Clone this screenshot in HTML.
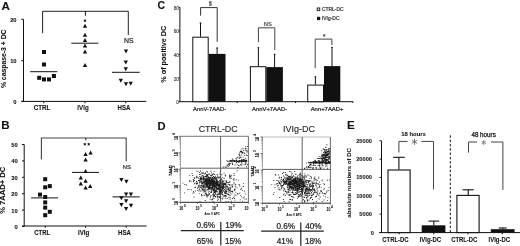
<!DOCTYPE html>
<html><head><meta charset="utf-8"><style>
html,body{margin:0;padding:0;background:#fff;}
svg{display:block;filter:blur(0.3px);font-family:"Liberation Sans", sans-serif;}
</style></head><body>
<svg width="520" height="246" viewBox="0 0 520 246">
<rect width="520" height="246" fill="#fff"/>
<text x="1.6" y="9.6" font-size="11.6" text-anchor="start" font-weight="bold" font-style="normal" fill="#111"  stroke="#111" stroke-width="0.08">A</text>
<line x1="23.5" y1="19.3" x2="23.5" y2="101.9" stroke="#111" stroke-width="1.0" />
<line x1="21.3" y1="19.3" x2="23.5" y2="19.3" stroke="#111" stroke-width="1.0" />
<text x="16.6" y="21.8" font-size="5.8" text-anchor="end" font-weight="bold" font-style="normal" fill="#111"  stroke="#111" stroke-width="0.08">20</text>
<line x1="21.3" y1="60.7" x2="23.5" y2="60.7" stroke="#111" stroke-width="1.0" />
<text x="16.6" y="63.2" font-size="5.8" text-anchor="end" font-weight="bold" font-style="normal" fill="#111"  stroke="#111" stroke-width="0.08">10</text>
<line x1="21.3" y1="101.4" x2="23.5" y2="101.4" stroke="#111" stroke-width="1.0" />
<text x="16.6" y="103.9" font-size="5.8" text-anchor="end" font-weight="bold" font-style="normal" fill="#111"  stroke="#111" stroke-width="0.08">0</text>
<line x1="21.3" y1="101.4" x2="146.3" y2="101.4" stroke="#111" stroke-width="1.0" />
<line x1="43.8" y1="101.4" x2="43.8" y2="103.2" stroke="#111" stroke-width="1.0" />
<line x1="85.0" y1="101.4" x2="85.0" y2="103.2" stroke="#111" stroke-width="1.0" />
<line x1="125.8" y1="101.4" x2="125.8" y2="103.2" stroke="#111" stroke-width="1.0" />
<text x="42.0" y="109.8" font-size="6.6" text-anchor="middle" font-weight="bold" font-style="normal" fill="#111" textLength="16.6" lengthAdjust="spacingAndGlyphs"  stroke="#111" stroke-width="0.08">CTRL</text>
<text x="83.0" y="109.8" font-size="6.6" text-anchor="middle" font-weight="bold" font-style="normal" fill="#111" textLength="11.3" lengthAdjust="spacingAndGlyphs"  stroke="#111" stroke-width="0.08">IVIg</text>
<text x="124.0" y="109.8" font-size="6.6" text-anchor="middle" font-weight="bold" font-style="normal" fill="#111" textLength="12.9" lengthAdjust="spacingAndGlyphs"  stroke="#111" stroke-width="0.08">HSA</text>
<text x="6.0" y="58.8" font-size="6.3" text-anchor="middle" font-weight="bold" font-style="normal" fill="#111" textLength="58.6" lengthAdjust="spacingAndGlyphs" transform="rotate(-90 6.0 58.8)"  stroke="#111" stroke-width="0.08">% caspase-3 + DC</text>
<polyline points="42.6,33.2 42.6,11.3 128.3,11.3 128.3,35" fill="none" stroke="#222" stroke-width="1"/>
<line x1="85.4" y1="11.3" x2="85.4" y2="15.7" stroke="#111" stroke-width="1.0" />
<path d="M85.00 19.75L85.00 21.65M85.82 20.22L84.18 21.18M85.82 21.18L84.18 20.22" stroke="#111" stroke-width="0.90" stroke-linecap="round"/>
<text x="128.8" y="42.6" font-size="6.4" text-anchor="middle" font-weight="normal" font-style="normal" fill="#111" textLength="9.6" lengthAdjust="spacingAndGlyphs" stroke="#111" stroke-width="0.15">NS</text>
<rect x="42.0" y="50.0" width="4.0" height="4.0" fill="#111" stroke="none" stroke-width="1.0"/>
<rect x="42.0" y="62.5" width="4.0" height="4.0" fill="#111" stroke="none" stroke-width="1.0"/>
<rect x="37.2" y="75.8" width="4.0" height="4.0" fill="#111" stroke="none" stroke-width="1.0"/>
<rect x="42.0" y="77.4" width="4.0" height="4.0" fill="#111" stroke="none" stroke-width="1.0"/>
<rect x="47.0" y="77.4" width="4.0" height="4.0" fill="#111" stroke="none" stroke-width="1.0"/>
<rect x="51.9" y="74.0" width="4.0" height="4.0" fill="#111" stroke="none" stroke-width="1.0"/>
<line x1="30.2" y1="71.7" x2="57.3" y2="71.7" stroke="#111" stroke-width="1.0" />
<polygon points="82.85,27.70 87.15,27.70 85.00,23.70" fill="#111"/>
<polygon points="82.85,36.70 87.15,36.70 85.00,32.70" fill="#111"/>
<polygon points="82.85,42.10 87.15,42.10 85.00,38.10" fill="#111"/>
<polygon points="82.85,47.50 87.15,47.50 85.00,43.50" fill="#111"/>
<polygon points="82.85,53.40 87.15,53.40 85.00,49.40" fill="#111"/>
<polygon points="82.85,67.00 87.15,67.00 85.00,63.00" fill="#111"/>
<line x1="71.3" y1="43.2" x2="98.4" y2="43.2" stroke="#111" stroke-width="1.0" />
<polygon points="123.85,49.40 128.15,49.40 126.00,53.40" fill="#111"/>
<polygon points="123.65,60.50 127.95,60.50 125.80,64.50" fill="#111"/>
<polygon points="123.65,67.30 127.95,67.30 125.80,71.30" fill="#111"/>
<polygon points="118.65,78.80 122.95,78.80 120.80,82.80" fill="#111"/>
<polygon points="123.85,82.30 128.15,82.30 126.00,86.30" fill="#111"/>
<polygon points="128.55,81.80 132.85,81.80 130.70,85.80" fill="#111"/>
<line x1="112" y1="72.3" x2="139.7" y2="72.3" stroke="#111" stroke-width="1.0" />
<text x="1.2" y="129.4" font-size="11.6" text-anchor="start" font-weight="bold" font-style="normal" fill="#111"  stroke="#111" stroke-width="0.08">B</text>
<line x1="24.2" y1="144.5" x2="24.2" y2="226.5" stroke="#111" stroke-width="1.0" />
<line x1="22.0" y1="144.5" x2="24.2" y2="144.5" stroke="#111" stroke-width="1.0" />
<text x="17.8" y="146.9" font-size="5.8" text-anchor="end" font-weight="bold" font-style="normal" fill="#111"  stroke="#111" stroke-width="0.08">50</text>
<line x1="22.0" y1="160.9" x2="24.2" y2="160.9" stroke="#111" stroke-width="1.0" />
<text x="17.8" y="163.3" font-size="5.8" text-anchor="end" font-weight="bold" font-style="normal" fill="#111"  stroke="#111" stroke-width="0.08">40</text>
<line x1="22.0" y1="177.3" x2="24.2" y2="177.3" stroke="#111" stroke-width="1.0" />
<text x="17.8" y="179.70000000000002" font-size="5.8" text-anchor="end" font-weight="bold" font-style="normal" fill="#111"  stroke="#111" stroke-width="0.08">30</text>
<line x1="22.0" y1="193.7" x2="24.2" y2="193.7" stroke="#111" stroke-width="1.0" />
<text x="17.8" y="196.1" font-size="5.8" text-anchor="end" font-weight="bold" font-style="normal" fill="#111"  stroke="#111" stroke-width="0.08">20</text>
<line x1="22.0" y1="210.1" x2="24.2" y2="210.1" stroke="#111" stroke-width="1.0" />
<text x="17.8" y="212.5" font-size="5.8" text-anchor="end" font-weight="bold" font-style="normal" fill="#111"  stroke="#111" stroke-width="0.08">10</text>
<line x1="22.0" y1="226.5" x2="24.2" y2="226.5" stroke="#111" stroke-width="1.0" />
<text x="17.8" y="228.9" font-size="5.8" text-anchor="end" font-weight="bold" font-style="normal" fill="#111"  stroke="#111" stroke-width="0.08">0</text>
<line x1="22.0" y1="226.0" x2="146.6" y2="226.0" stroke="#111" stroke-width="1.0" />
<line x1="45.2" y1="226.0" x2="45.2" y2="227.8" stroke="#111" stroke-width="1.0" />
<line x1="85.6" y1="226.0" x2="85.6" y2="227.8" stroke="#111" stroke-width="1.0" />
<line x1="126.2" y1="226.0" x2="126.2" y2="227.8" stroke="#111" stroke-width="1.0" />
<text x="42.2" y="234.6" font-size="6.6" text-anchor="middle" font-weight="bold" font-style="normal" fill="#111" textLength="15.8" lengthAdjust="spacingAndGlyphs"  stroke="#111" stroke-width="0.08">CTRL</text>
<text x="83.6" y="234.6" font-size="6.6" text-anchor="middle" font-weight="bold" font-style="normal" fill="#111" textLength="11.3" lengthAdjust="spacingAndGlyphs"  stroke="#111" stroke-width="0.08">IVIg</text>
<text x="124.4" y="234.6" font-size="6.6" text-anchor="middle" font-weight="bold" font-style="normal" fill="#111" textLength="12.8" lengthAdjust="spacingAndGlyphs"  stroke="#111" stroke-width="0.08">HSA</text>
<text x="5.4" y="190.3" font-size="6.3" text-anchor="middle" font-weight="bold" font-style="normal" fill="#111" textLength="47" lengthAdjust="spacingAndGlyphs" transform="rotate(-90 5.4 190.3)"  stroke="#111" stroke-width="0.08">% 7AAD+ DC</text>
<polyline points="41.4,159.4 41.4,138 126.2,138 126.2,161.3" fill="none" stroke="#444" stroke-width="1.1"/>
<line x1="85.8" y1="138" x2="85.8" y2="140.2" stroke="#111" stroke-width="1.0" />
<path d="M84.80 143.30L84.80 145.10M85.58 143.75L84.02 144.65M85.58 144.65L84.02 143.75" stroke="#111" stroke-width="0.85" stroke-linecap="round"/>
<path d="M88.70 143.30L88.70 145.10M89.48 143.75L87.92 144.65M89.48 144.65L87.92 143.75" stroke="#111" stroke-width="0.85" stroke-linecap="round"/>
<text x="126.8" y="168.9" font-size="5.6" text-anchor="middle" font-weight="normal" font-style="normal" fill="#333" textLength="8.2" lengthAdjust="spacingAndGlyphs"  stroke="#333" stroke-width="0.22">NS</text>
<rect x="43.2" y="177.2" width="4.0" height="4.0" fill="#111" stroke="none" stroke-width="1.0"/>
<rect x="43.2" y="185.3" width="4.0" height="4.0" fill="#111" stroke="none" stroke-width="1.0"/>
<rect x="47.8" y="184.1" width="4.0" height="4.0" fill="#111" stroke="none" stroke-width="1.0"/>
<rect x="38.0" y="192.6" width="4.0" height="4.0" fill="#111" stroke="none" stroke-width="1.0"/>
<rect x="43.2" y="195.0" width="4.0" height="4.0" fill="#111" stroke="none" stroke-width="1.0"/>
<rect x="43.2" y="200.4" width="4.0" height="4.0" fill="#111" stroke="none" stroke-width="1.0"/>
<rect x="43.2" y="205.6" width="4.0" height="4.0" fill="#111" stroke="none" stroke-width="1.0"/>
<rect x="47.8" y="209.8" width="4.0" height="4.0" fill="#111" stroke="none" stroke-width="1.0"/>
<rect x="43.2" y="213.2" width="4.0" height="4.0" fill="#111" stroke="none" stroke-width="1.0"/>
<line x1="31.1" y1="197.9" x2="58" y2="197.9" stroke="#111" stroke-width="1.0" />
<polygon points="88.45,154.50 92.75,154.50 90.60,150.50" fill="#111"/>
<polygon points="83.45,156.00 87.75,156.00 85.60,152.00" fill="#111"/>
<polygon points="83.45,161.40 87.75,161.40 85.60,157.40" fill="#111"/>
<polygon points="83.45,173.00 87.75,173.00 85.60,169.00" fill="#111"/>
<polygon points="78.65,179.60 82.95,179.60 80.80,175.60" fill="#111"/>
<polygon points="83.45,182.70 87.75,182.70 85.60,178.70" fill="#111"/>
<polygon points="78.65,185.60 82.95,185.60 80.80,181.60" fill="#111"/>
<polygon points="83.45,189.40 87.75,189.40 85.60,185.40" fill="#111"/>
<polygon points="88.05,188.10 92.35,188.10 90.20,184.10" fill="#111"/>
<line x1="72" y1="172.4" x2="99" y2="172.4" stroke="#111" stroke-width="1.0" />
<polygon points="119.25,178.00 123.55,178.00 121.40,182.00" fill="#111"/>
<polygon points="124.25,179.70 128.55,179.70 126.40,183.70" fill="#111"/>
<polygon points="123.95,192.40 128.25,192.40 126.10,196.40" fill="#111"/>
<polygon points="128.75,192.40 133.05,192.40 130.90,196.40" fill="#111"/>
<polygon points="119.25,196.20 123.55,196.20 121.40,200.20" fill="#111"/>
<polygon points="123.95,199.30 128.25,199.30 126.10,203.30" fill="#111"/>
<polygon points="119.25,202.90 123.55,202.90 121.40,206.90" fill="#111"/>
<polygon points="128.85,203.70 133.15,203.70 131.00,207.70" fill="#111"/>
<polygon points="123.95,207.10 128.25,207.10 126.10,211.10" fill="#111"/>
<line x1="112.6" y1="196.9" x2="139.7" y2="196.9" stroke="#111" stroke-width="1.0" />
<text x="157.6" y="8.6" font-size="10.5" text-anchor="start" font-weight="bold" font-style="normal" fill="#111"  stroke="#111" stroke-width="0.08">C</text>
<line x1="179.9" y1="7.3" x2="179.9" y2="101.7" stroke="#111" stroke-width="1.0" />
<line x1="178.5" y1="7.3" x2="179.9" y2="7.3" stroke="#111" stroke-width="1.0" />
<text x="178.9" y="9.7" font-size="4.6" text-anchor="end" font-weight="normal" font-style="normal" fill="#444"  stroke="#444" stroke-width="0.132">80</text>
<line x1="178.5" y1="30.900000000000002" x2="179.9" y2="30.900000000000002" stroke="#111" stroke-width="1.0" />
<text x="178.9" y="33.300000000000004" font-size="4.6" text-anchor="end" font-weight="normal" font-style="normal" fill="#444"  stroke="#444" stroke-width="0.132">60</text>
<line x1="178.5" y1="54.5" x2="179.9" y2="54.5" stroke="#111" stroke-width="1.0" />
<text x="178.9" y="56.9" font-size="4.6" text-anchor="end" font-weight="normal" font-style="normal" fill="#444"  stroke="#444" stroke-width="0.132">40</text>
<line x1="178.5" y1="78.10000000000001" x2="179.9" y2="78.10000000000001" stroke="#111" stroke-width="1.0" />
<text x="178.9" y="80.50000000000001" font-size="4.6" text-anchor="end" font-weight="normal" font-style="normal" fill="#444"  stroke="#444" stroke-width="0.132">20</text>
<line x1="178.5" y1="101.7" x2="179.9" y2="101.7" stroke="#111" stroke-width="1.0" />
<text x="178.9" y="104.10000000000001" font-size="4.6" text-anchor="end" font-weight="normal" font-style="normal" fill="#444"  stroke="#444" stroke-width="0.132">0</text>
<line x1="179.4" y1="101.7" x2="353" y2="101.7" stroke="#111" stroke-width="1.0" />
<line x1="237.2" y1="101.7" x2="237.2" y2="103" stroke="#111" stroke-width="1.0" />
<line x1="295.5" y1="101.7" x2="295.5" y2="103" stroke="#111" stroke-width="1.0" />
<line x1="353" y1="101.7" x2="353" y2="103" stroke="#111" stroke-width="1.0" />
<text x="166.2" y="54.2" font-size="6.8" text-anchor="middle" font-weight="bold" font-style="normal" fill="#111" textLength="57" lengthAdjust="spacingAndGlyphs" transform="rotate(-90 166.2 54.2)"  stroke="#111" stroke-width="0.08">% of positive   DC</text>
<line x1="200.5" y1="22.6" x2="200.5" y2="36.7" stroke="#111" stroke-width="1.0" />
<line x1="199.6" y1="23.0" x2="201.4" y2="23.0" stroke="#111" stroke-width="0.8" />
<rect x="192.8" y="37.2" width="15.399999999999977" height="64.5" fill="#fff" stroke="#111" stroke-width="1"/>
<line x1="217.1" y1="47.6" x2="217.1" y2="53.9" stroke="#111" stroke-width="1.0" />
<line x1="216.2" y1="48.0" x2="218.0" y2="48.0" stroke="#111" stroke-width="0.8" />
<rect x="208.7" y="53.9" width="16.80000000000001" height="47.800000000000004" fill="#111" stroke="none" stroke-width="1.0"/>
<line x1="258.4" y1="47.3" x2="258.4" y2="66.2" stroke="#111" stroke-width="1.0" />
<line x1="257.5" y1="47.699999999999996" x2="259.29999999999995" y2="47.699999999999996" stroke="#111" stroke-width="0.8" />
<rect x="250.4" y="66.7" width="15.400000000000006" height="35.0" fill="#fff" stroke="#111" stroke-width="1"/>
<line x1="274.6" y1="53.9" x2="274.6" y2="67.1" stroke="#111" stroke-width="1.0" />
<line x1="273.70000000000005" y1="54.3" x2="275.5" y2="54.3" stroke="#111" stroke-width="0.8" />
<rect x="266.3" y="67.1" width="16.599999999999966" height="34.60000000000001" fill="#111" stroke="none" stroke-width="1.0"/>
<line x1="315.4" y1="76.4" x2="315.4" y2="84.6" stroke="#111" stroke-width="1.0" />
<line x1="314.5" y1="76.80000000000001" x2="316.29999999999995" y2="76.80000000000001" stroke="#111" stroke-width="0.8" />
<rect x="307.7" y="85.1" width="15.800000000000011" height="16.60000000000001" fill="#fff" stroke="#111" stroke-width="1"/>
<line x1="332.0" y1="47.0" x2="332.0" y2="66.1" stroke="#111" stroke-width="1.0" />
<line x1="331.1" y1="47.4" x2="332.9" y2="47.4" stroke="#111" stroke-width="0.8" />
<rect x="324.0" y="66.1" width="16.30000000000001" height="35.60000000000001" fill="#111" stroke="none" stroke-width="1.0"/>
<polyline points="200.6,15.7 200.6,7.6 217.2,7.6 217.2,41.8" fill="none" stroke="#333" stroke-width="1"/>
<text x="210.4" y="5.0" font-size="5.5" text-anchor="middle" font-weight="normal" font-style="normal" fill="#333"  stroke="#333" stroke-width="0.22">§</text>
<polyline points="258.4,42.1 258.4,27.8 274.8,27.8 274.8,50.1" fill="none" stroke="#444" stroke-width="1"/>
<text x="267.8" y="26.1" font-size="4.9" text-anchor="middle" font-weight="normal" font-style="normal" fill="#333" textLength="8" lengthAdjust="spacingAndGlyphs"  stroke="#333" stroke-width="0.132">NS</text>
<polyline points="315.2,68.2 315.2,39.1 331.9,39.1 331.9,45.1" fill="none" stroke="#444" stroke-width="1"/>
<path d="M324.20 34.50L324.20 36.30M324.98 34.95L323.42 35.85M324.98 35.85L323.42 34.95" stroke="#444" stroke-width="0.85" stroke-linecap="round"/>
<text x="209.6" y="110.5" font-size="5.6" text-anchor="middle" font-weight="normal" font-style="normal" fill="#222" textLength="33" lengthAdjust="spacingAndGlyphs"  stroke="#222" stroke-width="0.22">AnnV-7AAD-</text>
<text x="269.6" y="110.5" font-size="5.6" text-anchor="middle" font-weight="normal" font-style="normal" fill="#222" textLength="35.3" lengthAdjust="spacingAndGlyphs"  stroke="#222" stroke-width="0.22">AnnV+7AAD-</text>
<text x="327.1" y="110.5" font-size="5.6" text-anchor="middle" font-weight="normal" font-style="normal" fill="#222" textLength="32.8" lengthAdjust="spacingAndGlyphs"  stroke="#222" stroke-width="0.22">Ann+7AAD+</text>
<rect x="317.3" y="8.0" width="2.4" height="2.6" fill="#fff" stroke="#333" stroke-width="1.1"/>
<text x="321.9" y="11.0" font-size="5.0" text-anchor="start" font-weight="normal" font-style="normal" fill="#333" textLength="21.6" lengthAdjust="spacingAndGlyphs"  stroke="#333" stroke-width="0.22">CTRL-DC</text>
<rect x="317.0" y="16.8" width="3.2" height="3.3" fill="#111" stroke="none" stroke-width="1.0"/>
<text x="321.9" y="20.0" font-size="5.0" text-anchor="start" font-weight="normal" font-style="normal" fill="#333" textLength="17.6" lengthAdjust="spacingAndGlyphs"  stroke="#333" stroke-width="0.22">IVIg-DC</text>
<text x="157.4" y="129.6" font-size="11.2" text-anchor="start" font-weight="bold" font-style="normal" fill="#111"  stroke="#111" stroke-width="0.08">D</text>
<text x="198.7" y="131.6" font-size="8.7" text-anchor="start" font-weight="normal" font-style="normal" fill="#222" textLength="39.0" lengthAdjust="spacingAndGlyphs" stroke="#222" stroke-width="0.1">CTRL-DC</text>
<text x="283.0" y="132.4" font-size="8.7" text-anchor="start" font-weight="normal" font-style="normal" fill="#222" textLength="32.0" lengthAdjust="spacingAndGlyphs" stroke="#222" stroke-width="0.1">IVIg-DC</text>
<line x1="180.5" y1="202.3" x2="248.4" y2="202.3" stroke="#222" stroke-width="1.0" />
<line x1="248.4" y1="136.3" x2="248.4" y2="202.3" stroke="#444" stroke-width="0.8" />
<line x1="180.5" y1="136.3" x2="248.4" y2="136.3" stroke="#555" stroke-width="0.8" />
<line x1="180.5" y1="136.3" x2="180.5" y2="202.3" stroke="#777" stroke-width="0.6" />
<line x1="220.6" y1="136.3" x2="220.6" y2="202.3" stroke="#444" stroke-width="0.85" />
<line x1="180.5" y1="168.2" x2="248.4" y2="168.2" stroke="#444" stroke-width="0.85" />
<line x1="178.5" y1="202.3" x2="180.5" y2="202.3" stroke="#333" stroke-width="0.7" />
<line x1="179.3" y1="197.33300507154433" x2="180.5" y2="197.33300507154433" stroke="#555" stroke-width="0.5" />
<line x1="179.3" y1="194.4274992971256" x2="180.5" y2="194.4274992971256" stroke="#555" stroke-width="0.5" />
<line x1="179.3" y1="192.36601014308863" x2="180.5" y2="192.36601014308863" stroke="#555" stroke-width="0.5" />
<line x1="179.3" y1="190.7669949284557" x2="180.5" y2="190.7669949284557" stroke="#555" stroke-width="0.5" />
<line x1="179.3" y1="189.4605043686699" x2="180.5" y2="189.4605043686699" stroke="#555" stroke-width="0.5" />
<line x1="179.3" y1="188.35588233976478" x2="180.5" y2="188.35588233976478" stroke="#555" stroke-width="0.5" />
<line x1="179.3" y1="187.39901521463295" x2="180.5" y2="187.39901521463295" stroke="#555" stroke-width="0.5" />
<line x1="179.3" y1="186.55499859425115" x2="180.5" y2="186.55499859425115" stroke="#555" stroke-width="0.5" />
<line x1="178.5" y1="185.8" x2="180.5" y2="185.8" stroke="#333" stroke-width="0.7" />
<line x1="179.3" y1="180.83300507154433" x2="180.5" y2="180.83300507154433" stroke="#555" stroke-width="0.5" />
<line x1="179.3" y1="177.9274992971256" x2="180.5" y2="177.9274992971256" stroke="#555" stroke-width="0.5" />
<line x1="179.3" y1="175.86601014308863" x2="180.5" y2="175.86601014308863" stroke="#555" stroke-width="0.5" />
<line x1="179.3" y1="174.2669949284557" x2="180.5" y2="174.2669949284557" stroke="#555" stroke-width="0.5" />
<line x1="179.3" y1="172.9605043686699" x2="180.5" y2="172.9605043686699" stroke="#555" stroke-width="0.5" />
<line x1="179.3" y1="171.85588233976478" x2="180.5" y2="171.85588233976478" stroke="#555" stroke-width="0.5" />
<line x1="179.3" y1="170.89901521463295" x2="180.5" y2="170.89901521463295" stroke="#555" stroke-width="0.5" />
<line x1="179.3" y1="170.05499859425115" x2="180.5" y2="170.05499859425115" stroke="#555" stroke-width="0.5" />
<line x1="178.5" y1="169.3" x2="180.5" y2="169.3" stroke="#333" stroke-width="0.7" />
<line x1="179.3" y1="164.33300507154433" x2="180.5" y2="164.33300507154433" stroke="#555" stroke-width="0.5" />
<line x1="179.3" y1="161.4274992971256" x2="180.5" y2="161.4274992971256" stroke="#555" stroke-width="0.5" />
<line x1="179.3" y1="159.36601014308863" x2="180.5" y2="159.36601014308863" stroke="#555" stroke-width="0.5" />
<line x1="179.3" y1="157.7669949284557" x2="180.5" y2="157.7669949284557" stroke="#555" stroke-width="0.5" />
<line x1="179.3" y1="156.4605043686699" x2="180.5" y2="156.4605043686699" stroke="#555" stroke-width="0.5" />
<line x1="179.3" y1="155.35588233976478" x2="180.5" y2="155.35588233976478" stroke="#555" stroke-width="0.5" />
<line x1="179.3" y1="154.39901521463295" x2="180.5" y2="154.39901521463295" stroke="#555" stroke-width="0.5" />
<line x1="179.3" y1="153.55499859425115" x2="180.5" y2="153.55499859425115" stroke="#555" stroke-width="0.5" />
<line x1="178.5" y1="152.8" x2="180.5" y2="152.8" stroke="#333" stroke-width="0.7" />
<line x1="179.3" y1="147.83300507154433" x2="180.5" y2="147.83300507154433" stroke="#555" stroke-width="0.5" />
<line x1="179.3" y1="144.9274992971256" x2="180.5" y2="144.9274992971256" stroke="#555" stroke-width="0.5" />
<line x1="179.3" y1="142.86601014308863" x2="180.5" y2="142.86601014308863" stroke="#555" stroke-width="0.5" />
<line x1="179.3" y1="141.2669949284557" x2="180.5" y2="141.2669949284557" stroke="#555" stroke-width="0.5" />
<line x1="179.3" y1="139.9605043686699" x2="180.5" y2="139.9605043686699" stroke="#555" stroke-width="0.5" />
<line x1="179.3" y1="138.85588233976478" x2="180.5" y2="138.85588233976478" stroke="#555" stroke-width="0.5" />
<line x1="179.3" y1="137.89901521463295" x2="180.5" y2="137.89901521463295" stroke="#555" stroke-width="0.5" />
<line x1="179.3" y1="137.05499859425115" x2="180.5" y2="137.05499859425115" stroke="#555" stroke-width="0.5" />
<line x1="178.5" y1="136.3" x2="180.5" y2="136.3" stroke="#333" stroke-width="0.7" />
<line x1="180.5" y1="202.3" x2="180.5" y2="203.8" stroke="#333" stroke-width="0.7" />
<line x1="197.475" y1="202.3" x2="197.475" y2="203.8" stroke="#333" stroke-width="0.7" />
<line x1="214.45" y1="202.3" x2="214.45" y2="203.8" stroke="#333" stroke-width="0.7" />
<line x1="231.425" y1="202.3" x2="231.425" y2="203.8" stroke="#333" stroke-width="0.7" />
<line x1="248.4" y1="202.3" x2="248.4" y2="203.8" stroke="#333" stroke-width="0.7" />
<path d="M208.4 181.5h0.9v0.9h-0.9zM208.6 179.4h0.9v0.9h-0.9zM205.6 179.3h0.9v0.9h-0.9zM214.2 182.0h0.9v0.9h-0.9zM213.9 181.5h0.9v0.9h-0.9zM211.2 181.0h0.9v0.9h-0.9zM202.5 181.6h0.9v0.9h-0.9zM211.6 181.8h0.9v0.9h-0.9zM202.4 175.0h0.9v0.9h-0.9zM205.8 178.6h0.9v0.9h-0.9zM210.8 180.3h0.9v0.9h-0.9zM211.7 178.9h0.9v0.9h-0.9zM210.8 181.5h0.9v0.9h-0.9zM206.7 184.3h0.9v0.9h-0.9zM211.8 183.6h0.9v0.9h-0.9zM206.9 178.1h0.9v0.9h-0.9zM208.1 179.8h0.9v0.9h-0.9zM212.2 181.3h0.9v0.9h-0.9zM207.6 177.6h0.9v0.9h-0.9zM207.3 183.1h0.9v0.9h-0.9zM206.1 180.5h0.9v0.9h-0.9zM211.3 176.7h0.9v0.9h-0.9zM209.7 183.7h0.9v0.9h-0.9zM201.0 178.4h0.9v0.9h-0.9zM209.1 178.2h0.9v0.9h-0.9zM211.6 180.4h0.9v0.9h-0.9zM203.3 181.6h0.9v0.9h-0.9zM212.3 183.1h0.9v0.9h-0.9zM215.6 182.0h0.9v0.9h-0.9zM210.0 177.1h0.9v0.9h-0.9zM212.1 179.1h0.9v0.9h-0.9zM207.6 176.8h0.9v0.9h-0.9zM205.4 178.4h0.9v0.9h-0.9zM214.9 175.8h0.9v0.9h-0.9zM203.4 180.2h0.9v0.9h-0.9zM215.6 182.5h0.9v0.9h-0.9zM201.5 172.9h0.9v0.9h-0.9zM211.0 178.6h0.9v0.9h-0.9zM204.8 182.2h0.9v0.9h-0.9zM214.1 181.3h0.9v0.9h-0.9zM210.5 181.5h0.9v0.9h-0.9zM216.2 182.7h0.9v0.9h-0.9zM211.7 182.0h0.9v0.9h-0.9zM202.9 182.7h0.9v0.9h-0.9zM213.5 182.1h0.9v0.9h-0.9zM201.2 177.7h0.9v0.9h-0.9zM213.0 176.1h0.9v0.9h-0.9zM208.7 182.8h0.9v0.9h-0.9zM204.0 183.7h0.9v0.9h-0.9zM211.8 180.2h0.9v0.9h-0.9zM210.9 182.1h0.9v0.9h-0.9zM210.0 183.3h0.9v0.9h-0.9zM206.7 178.9h0.9v0.9h-0.9zM213.9 180.9h0.9v0.9h-0.9zM205.8 182.3h0.9v0.9h-0.9zM215.7 179.9h0.9v0.9h-0.9zM203.7 179.2h0.9v0.9h-0.9zM208.9 179.5h0.9v0.9h-0.9zM215.4 178.4h0.9v0.9h-0.9zM214.8 177.7h0.9v0.9h-0.9zM206.2 181.5h0.9v0.9h-0.9zM214.2 183.1h0.9v0.9h-0.9zM210.9 180.8h0.9v0.9h-0.9zM210.1 181.8h0.9v0.9h-0.9zM208.8 180.9h0.9v0.9h-0.9zM211.9 180.6h0.9v0.9h-0.9zM212.7 182.1h0.9v0.9h-0.9zM217.9 182.2h0.9v0.9h-0.9zM207.7 179.1h0.9v0.9h-0.9zM209.4 182.6h0.9v0.9h-0.9zM208.1 181.1h0.9v0.9h-0.9zM217.2 174.7h0.9v0.9h-0.9zM204.8 180.3h0.9v0.9h-0.9zM211.2 181.1h0.9v0.9h-0.9zM207.7 181.7h0.9v0.9h-0.9zM210.7 179.1h0.9v0.9h-0.9zM219.7 182.5h0.9v0.9h-0.9zM207.2 179.8h0.9v0.9h-0.9zM208.6 180.0h0.9v0.9h-0.9zM198.0 177.6h0.9v0.9h-0.9zM213.7 177.8h0.9v0.9h-0.9zM209.2 182.7h0.9v0.9h-0.9zM213.1 184.5h0.9v0.9h-0.9zM202.4 178.5h0.9v0.9h-0.9zM208.1 181.7h0.9v0.9h-0.9zM214.1 174.0h0.9v0.9h-0.9zM214.1 177.2h0.9v0.9h-0.9zM212.4 176.9h0.9v0.9h-0.9zM210.2 183.4h0.9v0.9h-0.9zM208.9 180.7h0.9v0.9h-0.9zM212.8 181.1h0.9v0.9h-0.9zM209.1 184.2h0.9v0.9h-0.9zM213.9 180.1h0.9v0.9h-0.9zM221.0 178.8h0.9v0.9h-0.9zM213.3 180.1h0.9v0.9h-0.9zM210.1 182.2h0.9v0.9h-0.9zM210.4 182.0h0.9v0.9h-0.9zM203.1 175.7h0.9v0.9h-0.9zM212.1 178.2h0.9v0.9h-0.9zM205.2 176.0h0.9v0.9h-0.9zM214.8 182.9h0.9v0.9h-0.9zM215.7 178.7h0.9v0.9h-0.9zM209.5 177.4h0.9v0.9h-0.9zM212.7 184.7h0.9v0.9h-0.9zM205.8 183.8h0.9v0.9h-0.9zM213.6 180.4h0.9v0.9h-0.9zM201.2 182.9h0.9v0.9h-0.9zM209.1 178.7h0.9v0.9h-0.9zM211.2 181.6h0.9v0.9h-0.9zM215.8 178.5h0.9v0.9h-0.9zM214.3 184.7h0.9v0.9h-0.9zM215.6 180.6h0.9v0.9h-0.9zM206.4 182.5h0.9v0.9h-0.9zM210.0 180.7h0.9v0.9h-0.9zM215.5 180.4h0.9v0.9h-0.9zM199.9 178.1h0.9v0.9h-0.9zM201.7 181.4h0.9v0.9h-0.9zM210.8 178.9h0.9v0.9h-0.9zM209.5 182.4h0.9v0.9h-0.9zM209.8 183.7h0.9v0.9h-0.9zM209.2 182.9h0.9v0.9h-0.9zM215.8 185.2h0.9v0.9h-0.9zM206.7 182.2h0.9v0.9h-0.9zM201.6 176.6h0.9v0.9h-0.9zM201.3 182.0h0.9v0.9h-0.9zM204.3 179.6h0.9v0.9h-0.9zM208.7 180.1h0.9v0.9h-0.9zM207.0 180.6h0.9v0.9h-0.9zM217.0 181.3h0.9v0.9h-0.9zM211.7 183.1h0.9v0.9h-0.9zM208.7 177.0h0.9v0.9h-0.9zM207.2 182.7h0.9v0.9h-0.9zM202.6 177.9h0.9v0.9h-0.9zM213.7 182.8h0.9v0.9h-0.9zM209.5 182.4h0.9v0.9h-0.9zM210.2 177.4h0.9v0.9h-0.9zM202.9 177.9h0.9v0.9h-0.9zM213.4 179.3h0.9v0.9h-0.9zM205.7 177.9h0.9v0.9h-0.9zM203.1 179.2h0.9v0.9h-0.9zM204.5 180.6h0.9v0.9h-0.9zM199.6 179.9h0.9v0.9h-0.9zM206.8 175.0h0.9v0.9h-0.9zM212.5 180.0h0.9v0.9h-0.9zM200.1 176.9h0.9v0.9h-0.9zM210.7 179.3h0.9v0.9h-0.9zM212.8 182.6h0.9v0.9h-0.9zM212.3 181.5h0.9v0.9h-0.9zM215.1 182.7h0.9v0.9h-0.9zM211.4 175.2h0.9v0.9h-0.9zM213.3 184.1h0.9v0.9h-0.9zM208.3 178.9h0.9v0.9h-0.9zM217.6 176.8h0.9v0.9h-0.9zM211.5 186.7h0.9v0.9h-0.9zM205.6 181.6h0.9v0.9h-0.9zM217.4 181.0h0.9v0.9h-0.9zM211.9 182.9h0.9v0.9h-0.9zM205.7 179.6h0.9v0.9h-0.9zM210.7 182.6h0.9v0.9h-0.9zM209.4 179.8h0.9v0.9h-0.9zM205.2 178.9h0.9v0.9h-0.9zM213.2 181.0h0.9v0.9h-0.9zM205.9 177.7h0.9v0.9h-0.9zM220.7 184.6h0.9v0.9h-0.9zM212.2 174.0h0.9v0.9h-0.9zM212.1 181.8h0.9v0.9h-0.9zM216.6 182.3h0.9v0.9h-0.9zM209.2 181.6h0.9v0.9h-0.9zM201.3 181.9h0.9v0.9h-0.9zM210.9 178.7h0.9v0.9h-0.9zM215.1 185.6h0.9v0.9h-0.9zM203.6 177.9h0.9v0.9h-0.9zM210.7 180.9h0.9v0.9h-0.9zM207.8 177.6h0.9v0.9h-0.9zM218.4 184.0h0.9v0.9h-0.9zM204.5 176.3h0.9v0.9h-0.9zM216.7 183.7h0.9v0.9h-0.9zM217.1 183.3h0.9v0.9h-0.9zM205.8 180.5h0.9v0.9h-0.9zM200.4 177.3h0.9v0.9h-0.9zM209.3 181.6h0.9v0.9h-0.9zM206.4 179.6h0.9v0.9h-0.9zM211.4 181.5h0.9v0.9h-0.9zM212.2 181.2h0.9v0.9h-0.9zM208.1 182.1h0.9v0.9h-0.9zM209.7 178.2h0.9v0.9h-0.9zM206.9 180.0h0.9v0.9h-0.9zM209.0 180.6h0.9v0.9h-0.9zM209.5 180.7h0.9v0.9h-0.9zM208.9 177.0h0.9v0.9h-0.9zM211.3 183.2h0.9v0.9h-0.9zM211.3 180.0h0.9v0.9h-0.9zM211.4 178.1h0.9v0.9h-0.9zM201.5 179.5h0.9v0.9h-0.9zM205.6 181.7h0.9v0.9h-0.9zM204.9 173.0h0.9v0.9h-0.9zM205.1 183.8h0.9v0.9h-0.9zM207.9 176.6h0.9v0.9h-0.9zM206.3 181.2h0.9v0.9h-0.9zM211.6 181.0h0.9v0.9h-0.9zM224.6 189.6h0.9v0.9h-0.9zM211.8 186.8h0.9v0.9h-0.9zM226.1 191.1h0.9v0.9h-0.9zM220.7 180.4h0.9v0.9h-0.9zM210.7 187.3h0.9v0.9h-0.9zM209.5 188.7h0.9v0.9h-0.9zM217.1 189.2h0.9v0.9h-0.9zM210.2 195.8h0.9v0.9h-0.9zM222.5 184.8h0.9v0.9h-0.9zM212.8 196.5h0.9v0.9h-0.9zM209.1 187.7h0.9v0.9h-0.9zM220.3 185.5h0.9v0.9h-0.9zM202.1 183.1h0.9v0.9h-0.9zM215.1 189.9h0.9v0.9h-0.9zM218.7 185.3h0.9v0.9h-0.9zM219.3 187.9h0.9v0.9h-0.9zM213.8 184.6h0.9v0.9h-0.9zM209.9 186.9h0.9v0.9h-0.9zM203.0 179.4h0.9v0.9h-0.9zM212.0 177.0h0.9v0.9h-0.9zM208.3 173.8h0.9v0.9h-0.9zM206.2 185.7h0.9v0.9h-0.9zM216.8 184.6h0.9v0.9h-0.9zM210.0 176.9h0.9v0.9h-0.9zM227.5 189.2h0.9v0.9h-0.9zM221.3 181.4h0.9v0.9h-0.9zM210.4 175.0h0.9v0.9h-0.9zM218.6 189.6h0.9v0.9h-0.9zM195.9 180.9h0.9v0.9h-0.9zM217.4 176.5h0.9v0.9h-0.9zM196.5 176.2h0.9v0.9h-0.9zM206.7 176.4h0.9v0.9h-0.9zM212.3 185.2h0.9v0.9h-0.9zM217.4 188.3h0.9v0.9h-0.9zM224.8 191.8h0.9v0.9h-0.9zM200.8 179.6h0.9v0.9h-0.9zM203.0 177.3h0.9v0.9h-0.9zM211.3 183.9h0.9v0.9h-0.9zM216.2 177.2h0.9v0.9h-0.9zM201.5 182.0h0.9v0.9h-0.9zM210.3 182.2h0.9v0.9h-0.9zM211.5 180.3h0.9v0.9h-0.9zM218.0 186.7h0.9v0.9h-0.9zM211.3 180.7h0.9v0.9h-0.9zM210.5 170.8h0.9v0.9h-0.9zM203.7 182.7h0.9v0.9h-0.9zM199.2 182.7h0.9v0.9h-0.9zM213.3 177.7h0.9v0.9h-0.9zM209.9 182.1h0.9v0.9h-0.9zM215.9 187.6h0.9v0.9h-0.9zM211.7 179.9h0.9v0.9h-0.9zM210.8 183.5h0.9v0.9h-0.9zM218.2 186.5h0.9v0.9h-0.9zM205.9 176.5h0.9v0.9h-0.9zM208.8 179.9h0.9v0.9h-0.9zM202.5 181.8h0.9v0.9h-0.9zM207.8 183.8h0.9v0.9h-0.9zM216.4 182.8h0.9v0.9h-0.9zM231.8 186.0h0.9v0.9h-0.9zM221.4 186.2h0.9v0.9h-0.9zM221.5 174.3h0.9v0.9h-0.9zM205.6 184.1h0.9v0.9h-0.9zM217.1 196.0h0.9v0.9h-0.9zM214.7 190.6h0.9v0.9h-0.9zM218.5 189.7h0.9v0.9h-0.9zM216.3 184.0h0.9v0.9h-0.9zM216.3 179.6h0.9v0.9h-0.9zM222.0 180.9h0.9v0.9h-0.9zM214.1 194.5h0.9v0.9h-0.9zM210.1 183.8h0.9v0.9h-0.9zM221.9 185.9h0.9v0.9h-0.9zM205.1 184.0h0.9v0.9h-0.9zM216.9 188.3h0.9v0.9h-0.9zM205.4 191.2h0.9v0.9h-0.9zM226.2 186.6h0.9v0.9h-0.9zM214.3 182.4h0.9v0.9h-0.9zM224.0 182.8h0.9v0.9h-0.9zM217.7 182.7h0.9v0.9h-0.9zM206.1 186.4h0.9v0.9h-0.9zM223.3 186.0h0.9v0.9h-0.9zM206.2 186.9h0.9v0.9h-0.9zM211.6 185.4h0.9v0.9h-0.9zM224.9 191.7h0.9v0.9h-0.9zM207.6 194.1h0.9v0.9h-0.9zM212.0 187.8h0.9v0.9h-0.9zM206.5 182.8h0.9v0.9h-0.9zM197.1 189.9h0.9v0.9h-0.9zM223.6 180.3h0.9v0.9h-0.9zM199.2 174.0h0.9v0.9h-0.9zM222.0 183.6h0.9v0.9h-0.9zM211.5 182.4h0.9v0.9h-0.9zM211.0 178.6h0.9v0.9h-0.9zM212.2 177.2h0.9v0.9h-0.9zM211.4 185.4h0.9v0.9h-0.9zM216.0 183.6h0.9v0.9h-0.9zM204.3 183.4h0.9v0.9h-0.9zM207.9 190.7h0.9v0.9h-0.9zM218.5 184.6h0.9v0.9h-0.9zM208.0 179.9h0.9v0.9h-0.9zM204.0 180.9h0.9v0.9h-0.9zM214.5 186.9h0.9v0.9h-0.9zM216.8 194.9h0.9v0.9h-0.9zM206.0 183.0h0.9v0.9h-0.9zM235.8 179.3h0.9v0.9h-0.9zM207.6 184.0h0.9v0.9h-0.9zM213.3 186.2h0.9v0.9h-0.9zM210.0 185.4h0.9v0.9h-0.9zM212.4 187.8h0.9v0.9h-0.9zM195.9 176.9h0.9v0.9h-0.9zM212.0 179.1h0.9v0.9h-0.9zM203.1 185.4h0.9v0.9h-0.9zM206.5 186.1h0.9v0.9h-0.9zM218.3 186.6h0.9v0.9h-0.9zM216.3 184.3h0.9v0.9h-0.9zM200.0 181.7h0.9v0.9h-0.9zM215.9 182.2h0.9v0.9h-0.9zM211.2 187.4h0.9v0.9h-0.9zM204.5 185.7h0.9v0.9h-0.9zM227.8 184.1h0.9v0.9h-0.9zM213.2 183.5h0.9v0.9h-0.9zM225.1 187.8h0.9v0.9h-0.9zM219.6 182.1h0.9v0.9h-0.9zM211.9 183.9h0.9v0.9h-0.9zM196.9 188.2h0.9v0.9h-0.9zM219.6 177.0h0.9v0.9h-0.9zM218.3 184.5h0.9v0.9h-0.9zM215.8 186.4h0.9v0.9h-0.9zM199.3 180.7h0.9v0.9h-0.9zM224.7 183.5h0.9v0.9h-0.9zM203.3 176.0h0.9v0.9h-0.9zM201.6 183.8h0.9v0.9h-0.9zM226.4 188.6h0.9v0.9h-0.9zM214.1 195.0h0.9v0.9h-0.9zM207.6 180.0h0.9v0.9h-0.9zM216.5 187.4h0.9v0.9h-0.9zM203.4 176.9h0.9v0.9h-0.9zM214.5 185.6h0.9v0.9h-0.9zM200.9 181.1h0.9v0.9h-0.9zM207.4 185.4h0.9v0.9h-0.9zM211.0 183.4h0.9v0.9h-0.9zM209.0 188.5h0.9v0.9h-0.9zM223.8 184.3h0.9v0.9h-0.9zM219.2 181.7h0.9v0.9h-0.9zM212.6 187.7h0.9v0.9h-0.9zM224.9 184.4h0.9v0.9h-0.9zM211.4 184.8h0.9v0.9h-0.9zM199.3 181.8h0.9v0.9h-0.9zM206.3 184.8h0.9v0.9h-0.9zM202.4 172.9h0.9v0.9h-0.9zM212.3 185.3h0.9v0.9h-0.9zM207.3 187.4h0.9v0.9h-0.9zM209.7 180.7h0.9v0.9h-0.9zM216.1 177.2h0.9v0.9h-0.9zM206.2 182.9h0.9v0.9h-0.9zM219.2 184.5h0.9v0.9h-0.9zM214.6 181.3h0.9v0.9h-0.9zM214.6 192.4h0.9v0.9h-0.9zM206.2 194.3h0.9v0.9h-0.9zM206.5 183.1h0.9v0.9h-0.9zM213.5 189.1h0.9v0.9h-0.9zM201.5 172.1h0.9v0.9h-0.9zM217.2 188.7h0.9v0.9h-0.9zM217.3 197.5h0.9v0.9h-0.9zM213.7 185.5h0.9v0.9h-0.9zM219.9 187.2h0.9v0.9h-0.9zM226.1 180.6h0.9v0.9h-0.9zM218.9 183.4h0.9v0.9h-0.9zM219.9 195.7h0.9v0.9h-0.9zM211.9 182.8h0.9v0.9h-0.9zM207.8 179.3h0.9v0.9h-0.9zM206.6 186.1h0.9v0.9h-0.9zM212.3 184.4h0.9v0.9h-0.9zM210.5 188.1h0.9v0.9h-0.9zM216.2 184.1h0.9v0.9h-0.9zM217.7 184.3h0.9v0.9h-0.9zM202.2 189.2h0.9v0.9h-0.9zM216.0 180.1h0.9v0.9h-0.9zM221.2 187.3h0.9v0.9h-0.9zM198.7 189.3h0.9v0.9h-0.9zM214.8 188.8h0.9v0.9h-0.9zM213.7 183.6h0.9v0.9h-0.9zM198.8 186.3h0.9v0.9h-0.9zM212.3 182.7h0.9v0.9h-0.9zM215.0 184.9h0.9v0.9h-0.9zM217.7 183.2h0.9v0.9h-0.9zM211.7 173.7h0.9v0.9h-0.9zM208.4 186.6h0.9v0.9h-0.9zM223.4 184.3h0.9v0.9h-0.9zM211.0 191.4h0.9v0.9h-0.9zM209.2 187.0h0.9v0.9h-0.9zM226.3 186.7h0.9v0.9h-0.9zM222.4 182.5h0.9v0.9h-0.9zM213.8 183.9h0.9v0.9h-0.9zM213.0 189.6h0.9v0.9h-0.9zM232.3 184.4h0.9v0.9h-0.9zM207.1 185.5h0.9v0.9h-0.9zM203.0 184.8h0.9v0.9h-0.9zM216.9 183.5h0.9v0.9h-0.9zM216.5 177.4h0.9v0.9h-0.9zM218.5 177.8h0.9v0.9h-0.9zM206.1 180.3h0.9v0.9h-0.9zM208.6 187.5h0.9v0.9h-0.9zM212.7 182.2h0.9v0.9h-0.9zM216.6 192.4h0.9v0.9h-0.9zM212.1 185.8h0.9v0.9h-0.9zM222.5 187.1h0.9v0.9h-0.9zM201.1 194.0h0.9v0.9h-0.9zM230.8 177.8h0.9v0.9h-0.9zM211.7 185.9h0.9v0.9h-0.9zM220.2 188.6h0.9v0.9h-0.9zM209.7 178.6h0.9v0.9h-0.9zM212.9 189.1h0.9v0.9h-0.9zM202.7 177.5h0.9v0.9h-0.9zM211.8 174.7h0.9v0.9h-0.9zM209.8 181.5h0.9v0.9h-0.9zM215.8 181.3h0.9v0.9h-0.9zM204.5 180.8h0.9v0.9h-0.9zM211.6 180.8h0.9v0.9h-0.9zM212.1 187.6h0.9v0.9h-0.9zM222.1 193.9h0.9v0.9h-0.9zM205.3 180.8h0.9v0.9h-0.9zM190.9 189.3h0.9v0.9h-0.9zM205.8 182.8h0.9v0.9h-0.9zM216.4 178.3h0.9v0.9h-0.9zM215.9 184.6h0.9v0.9h-0.9zM196.5 182.7h0.9v0.9h-0.9zM222.2 176.9h0.9v0.9h-0.9zM218.9 186.2h0.9v0.9h-0.9zM216.0 186.8h0.9v0.9h-0.9zM223.1 184.9h0.9v0.9h-0.9zM219.4 183.4h0.9v0.9h-0.9zM218.2 181.2h0.9v0.9h-0.9zM211.1 192.1h0.9v0.9h-0.9zM215.8 183.9h0.9v0.9h-0.9zM202.3 178.5h0.9v0.9h-0.9zM213.6 188.8h0.9v0.9h-0.9zM215.6 187.1h0.9v0.9h-0.9zM211.6 190.4h0.9v0.9h-0.9zM208.7 180.8h0.9v0.9h-0.9zM219.5 185.6h0.9v0.9h-0.9zM209.6 180.8h0.9v0.9h-0.9zM209.8 186.6h0.9v0.9h-0.9zM215.0 178.8h0.9v0.9h-0.9zM215.6 185.5h0.9v0.9h-0.9zM203.5 186.2h0.9v0.9h-0.9zM209.6 182.0h0.9v0.9h-0.9zM218.8 191.5h0.9v0.9h-0.9zM206.1 185.1h0.9v0.9h-0.9zM204.6 193.7h0.9v0.9h-0.9zM207.8 189.0h0.9v0.9h-0.9zM206.5 186.9h0.9v0.9h-0.9zM230.9 175.2h0.9v0.9h-0.9zM208.3 185.7h0.9v0.9h-0.9zM211.2 180.7h0.9v0.9h-0.9zM230.3 187.6h0.9v0.9h-0.9zM198.0 185.6h0.9v0.9h-0.9zM197.4 186.9h0.9v0.9h-0.9zM207.1 183.8h0.9v0.9h-0.9zM222.7 186.5h0.9v0.9h-0.9zM200.2 173.8h0.9v0.9h-0.9zM222.1 189.3h0.9v0.9h-0.9zM205.1 186.9h0.9v0.9h-0.9zM216.2 187.8h0.9v0.9h-0.9zM192.8 179.2h0.9v0.9h-0.9zM219.7 188.8h0.9v0.9h-0.9zM219.5 173.6h0.9v0.9h-0.9zM213.4 186.6h0.9v0.9h-0.9zM233.7 183.3h0.9v0.9h-0.9zM209.2 183.7h0.9v0.9h-0.9zM219.5 183.2h0.9v0.9h-0.9zM221.8 182.0h0.9v0.9h-0.9zM214.3 181.9h0.9v0.9h-0.9zM213.3 180.9h0.9v0.9h-0.9zM198.4 186.8h0.9v0.9h-0.9zM214.6 181.8h0.9v0.9h-0.9zM213.7 189.0h0.9v0.9h-0.9zM203.7 182.0h0.9v0.9h-0.9zM216.6 187.3h0.9v0.9h-0.9zM209.1 173.4h0.9v0.9h-0.9zM222.6 187.4h0.9v0.9h-0.9zM212.1 182.7h0.9v0.9h-0.9zM214.2 182.4h0.9v0.9h-0.9zM203.3 178.9h0.9v0.9h-0.9zM206.9 180.2h0.9v0.9h-0.9zM202.2 185.3h0.9v0.9h-0.9zM200.9 185.2h0.9v0.9h-0.9zM203.4 184.2h0.9v0.9h-0.9zM223.7 187.0h0.9v0.9h-0.9zM205.8 183.1h0.9v0.9h-0.9zM213.3 176.0h0.9v0.9h-0.9zM206.8 183.9h0.9v0.9h-0.9zM208.0 183.7h0.9v0.9h-0.9zM218.2 188.8h0.9v0.9h-0.9zM219.7 188.2h0.9v0.9h-0.9zM209.6 183.5h0.9v0.9h-0.9zM209.7 182.1h0.9v0.9h-0.9zM210.5 175.5h0.9v0.9h-0.9zM209.2 183.4h0.9v0.9h-0.9zM203.7 182.4h0.9v0.9h-0.9zM216.4 184.0h0.9v0.9h-0.9zM229.7 174.7h0.9v0.9h-0.9zM210.2 175.0h0.9v0.9h-0.9zM220.3 198.1h0.9v0.9h-0.9zM190.7 180.9h0.9v0.9h-0.9zM216.4 183.3h0.9v0.9h-0.9zM216.7 174.1h0.9v0.9h-0.9zM219.2 187.1h0.9v0.9h-0.9zM212.2 181.2h0.9v0.9h-0.9zM217.4 182.6h0.9v0.9h-0.9zM213.9 181.9h0.9v0.9h-0.9zM192.9 180.5h0.9v0.9h-0.9zM213.7 187.9h0.9v0.9h-0.9zM204.6 182.5h0.9v0.9h-0.9zM217.2 185.6h0.9v0.9h-0.9zM222.6 195.4h0.9v0.9h-0.9zM204.3 173.5h0.9v0.9h-0.9zM219.3 192.6h0.9v0.9h-0.9zM219.8 189.3h0.9v0.9h-0.9zM206.7 179.7h0.9v0.9h-0.9zM219.6 181.0h0.9v0.9h-0.9zM196.6 176.5h0.9v0.9h-0.9zM233.2 196.9h0.9v0.9h-0.9zM206.2 179.5h0.9v0.9h-0.9zM214.0 180.8h0.9v0.9h-0.9zM223.1 185.6h0.9v0.9h-0.9zM202.8 188.6h0.9v0.9h-0.9zM207.0 184.2h0.9v0.9h-0.9zM211.9 182.5h0.9v0.9h-0.9zM214.8 181.2h0.9v0.9h-0.9zM196.3 170.7h0.9v0.9h-0.9zM201.2 178.5h0.9v0.9h-0.9zM211.8 184.2h0.9v0.9h-0.9zM216.7 185.4h0.9v0.9h-0.9zM205.3 179.4h0.9v0.9h-0.9zM194.0 180.0h0.9v0.9h-0.9zM216.1 187.3h0.9v0.9h-0.9zM211.0 183.0h0.9v0.9h-0.9zM220.0 185.5h0.9v0.9h-0.9zM218.3 187.9h0.9v0.9h-0.9zM213.8 190.6h0.9v0.9h-0.9zM207.1 181.4h0.9v0.9h-0.9zM205.1 179.0h0.9v0.9h-0.9zM225.2 194.7h0.9v0.9h-0.9zM212.2 186.7h0.9v0.9h-0.9zM222.0 189.6h0.9v0.9h-0.9zM222.2 179.8h0.9v0.9h-0.9zM206.6 185.2h0.9v0.9h-0.9zM224.2 186.6h0.9v0.9h-0.9zM204.7 181.0h0.9v0.9h-0.9zM206.4 178.9h0.9v0.9h-0.9zM224.8 183.3h0.9v0.9h-0.9zM212.2 194.3h0.9v0.9h-0.9zM222.1 187.4h0.9v0.9h-0.9zM206.8 185.0h0.9v0.9h-0.9zM225.8 189.4h0.9v0.9h-0.9zM222.7 186.4h0.9v0.9h-0.9zM216.4 183.8h0.9v0.9h-0.9zM215.6 190.8h0.9v0.9h-0.9zM199.8 181.6h0.9v0.9h-0.9zM214.0 181.6h0.9v0.9h-0.9zM209.4 187.3h0.9v0.9h-0.9zM229.0 190.0h0.9v0.9h-0.9zM214.8 177.1h0.9v0.9h-0.9zM228.4 187.3h0.9v0.9h-0.9zM211.7 178.6h0.9v0.9h-0.9zM211.5 178.7h0.9v0.9h-0.9zM212.6 186.3h0.9v0.9h-0.9zM212.3 185.4h0.9v0.9h-0.9zM204.8 189.5h0.9v0.9h-0.9zM206.4 174.3h0.9v0.9h-0.9zM210.4 180.1h0.9v0.9h-0.9zM203.4 180.8h0.9v0.9h-0.9zM214.5 178.8h0.9v0.9h-0.9zM210.8 190.6h0.9v0.9h-0.9zM217.8 184.3h0.9v0.9h-0.9zM213.1 183.6h0.9v0.9h-0.9zM211.6 187.4h0.9v0.9h-0.9zM211.2 172.4h0.9v0.9h-0.9zM211.8 179.7h0.9v0.9h-0.9zM217.5 182.1h0.9v0.9h-0.9zM213.3 194.6h0.9v0.9h-0.9zM203.1 177.1h0.9v0.9h-0.9zM200.0 170.5h0.9v0.9h-0.9zM196.0 182.9h0.9v0.9h-0.9zM206.6 174.1h0.9v0.9h-0.9zM199.4 184.7h0.9v0.9h-0.9zM205.4 181.1h0.9v0.9h-0.9zM214.8 191.0h0.9v0.9h-0.9zM228.5 191.8h0.9v0.9h-0.9zM213.2 185.1h0.9v0.9h-0.9zM227.3 193.5h0.9v0.9h-0.9zM209.4 185.7h0.9v0.9h-0.9zM214.4 184.7h0.9v0.9h-0.9zM207.7 176.9h0.9v0.9h-0.9zM207.5 175.8h0.9v0.9h-0.9zM222.4 188.4h0.9v0.9h-0.9zM201.7 188.8h0.9v0.9h-0.9zM219.6 176.2h0.9v0.9h-0.9zM227.7 190.6h0.9v0.9h-0.9zM229.5 181.2h0.9v0.9h-0.9zM216.5 186.8h0.9v0.9h-0.9zM213.7 185.1h0.9v0.9h-0.9zM221.0 178.5h0.9v0.9h-0.9zM201.4 175.5h0.9v0.9h-0.9zM207.3 180.3h0.9v0.9h-0.9zM215.1 185.8h0.9v0.9h-0.9zM212.3 180.8h0.9v0.9h-0.9zM208.2 187.9h0.9v0.9h-0.9zM218.5 185.6h0.9v0.9h-0.9zM209.3 190.9h0.9v0.9h-0.9zM206.9 186.2h0.9v0.9h-0.9zM221.8 184.5h0.9v0.9h-0.9zM219.0 179.9h0.9v0.9h-0.9zM220.6 186.5h0.9v0.9h-0.9zM198.5 184.8h0.9v0.9h-0.9zM204.4 188.8h0.9v0.9h-0.9zM206.2 182.2h0.9v0.9h-0.9zM214.4 182.8h0.9v0.9h-0.9zM214.2 181.8h0.9v0.9h-0.9zM217.7 185.0h0.9v0.9h-0.9zM213.8 171.2h0.9v0.9h-0.9zM221.9 185.9h0.9v0.9h-0.9zM196.8 181.8h0.9v0.9h-0.9zM216.0 189.8h0.9v0.9h-0.9zM202.8 189.8h0.9v0.9h-0.9zM210.6 195.2h0.9v0.9h-0.9zM210.8 187.0h0.9v0.9h-0.9zM208.9 178.1h0.9v0.9h-0.9zM221.3 190.0h0.9v0.9h-0.9zM225.1 190.4h0.9v0.9h-0.9zM207.1 175.2h0.9v0.9h-0.9zM206.5 179.8h0.9v0.9h-0.9zM205.1 185.6h0.9v0.9h-0.9zM214.8 183.2h0.9v0.9h-0.9zM213.5 183.6h0.9v0.9h-0.9zM213.8 187.9h0.9v0.9h-0.9zM220.2 182.2h0.9v0.9h-0.9zM199.2 188.5h0.9v0.9h-0.9zM213.0 189.4h0.9v0.9h-0.9zM198.0 180.0h0.9v0.9h-0.9zM212.2 177.2h0.9v0.9h-0.9zM207.6 186.7h0.9v0.9h-0.9zM221.2 193.2h0.9v0.9h-0.9zM204.7 176.0h0.9v0.9h-0.9zM216.4 189.3h0.9v0.9h-0.9zM213.6 178.1h0.9v0.9h-0.9zM218.6 189.0h0.9v0.9h-0.9zM216.7 182.5h0.9v0.9h-0.9zM214.6 188.2h0.9v0.9h-0.9zM207.3 174.4h0.9v0.9h-0.9zM214.8 186.8h0.9v0.9h-0.9zM212.1 188.3h0.9v0.9h-0.9zM207.0 182.7h0.9v0.9h-0.9zM209.4 186.3h0.9v0.9h-0.9zM225.6 185.2h0.9v0.9h-0.9zM229.5 194.4h0.9v0.9h-0.9zM218.7 188.0h0.9v0.9h-0.9zM227.1 185.8h0.9v0.9h-0.9zM211.0 178.8h0.9v0.9h-0.9zM216.0 191.1h0.9v0.9h-0.9zM216.5 186.8h0.9v0.9h-0.9zM210.3 184.5h0.9v0.9h-0.9zM199.9 186.9h0.9v0.9h-0.9zM208.5 178.1h0.9v0.9h-0.9zM205.6 178.9h0.9v0.9h-0.9zM219.3 190.3h0.9v0.9h-0.9zM200.5 186.4h0.9v0.9h-0.9zM219.5 182.6h0.9v0.9h-0.9zM199.4 178.2h0.9v0.9h-0.9zM206.6 184.7h0.9v0.9h-0.9zM209.0 173.8h0.9v0.9h-0.9zM214.0 177.0h0.9v0.9h-0.9zM219.7 179.6h0.9v0.9h-0.9zM206.1 178.9h0.9v0.9h-0.9zM207.4 189.4h0.9v0.9h-0.9zM219.2 188.1h0.9v0.9h-0.9zM214.7 177.1h0.9v0.9h-0.9zM207.6 180.6h0.9v0.9h-0.9zM203.7 185.0h0.9v0.9h-0.9zM205.7 179.5h0.9v0.9h-0.9zM203.1 172.6h0.9v0.9h-0.9zM217.1 191.2h0.9v0.9h-0.9zM213.5 179.6h0.9v0.9h-0.9zM189.0 180.8h0.9v0.9h-0.9zM222.3 187.2h0.9v0.9h-0.9zM219.9 192.4h0.9v0.9h-0.9zM221.6 183.6h0.9v0.9h-0.9zM220.9 189.3h0.9v0.9h-0.9zM198.9 179.8h0.9v0.9h-0.9zM199.9 181.3h0.9v0.9h-0.9zM216.9 179.8h0.9v0.9h-0.9zM194.5 187.1h0.9v0.9h-0.9zM215.2 191.6h0.9v0.9h-0.9zM200.7 187.1h0.9v0.9h-0.9zM229.6 196.7h0.9v0.9h-0.9zM210.2 185.0h0.9v0.9h-0.9zM210.7 188.5h0.9v0.9h-0.9zM220.8 186.0h0.9v0.9h-0.9zM200.4 185.5h0.9v0.9h-0.9zM208.0 186.3h0.9v0.9h-0.9zM214.2 192.1h0.9v0.9h-0.9zM221.7 183.6h0.9v0.9h-0.9zM215.0 192.9h0.9v0.9h-0.9zM207.4 185.3h0.9v0.9h-0.9zM222.1 191.8h0.9v0.9h-0.9zM216.4 178.5h0.9v0.9h-0.9zM201.3 183.3h0.9v0.9h-0.9zM215.3 196.7h0.9v0.9h-0.9zM204.7 188.1h0.9v0.9h-0.9zM218.5 177.2h0.9v0.9h-0.9zM205.0 183.6h0.9v0.9h-0.9zM207.8 182.5h0.9v0.9h-0.9zM216.0 180.8h0.9v0.9h-0.9zM216.0 181.7h0.9v0.9h-0.9zM207.4 185.7h0.9v0.9h-0.9zM207.1 184.5h0.9v0.9h-0.9zM225.6 186.5h0.9v0.9h-0.9zM210.8 187.3h0.9v0.9h-0.9zM208.9 188.6h0.9v0.9h-0.9zM201.1 185.0h0.9v0.9h-0.9zM212.1 181.8h0.9v0.9h-0.9zM242.9 186.0h0.9v0.9h-0.9zM242.7 197.6h0.9v0.9h-0.9zM238.6 184.3h0.9v0.9h-0.9zM217.4 187.8h0.9v0.9h-0.9zM213.3 183.3h0.9v0.9h-0.9zM225.0 192.5h0.9v0.9h-0.9zM214.6 192.0h0.9v0.9h-0.9zM238.7 184.1h0.9v0.9h-0.9zM200.7 177.8h0.9v0.9h-0.9zM205.0 172.6h0.9v0.9h-0.9zM225.1 175.5h0.9v0.9h-0.9zM225.7 201.3h0.9v0.9h-0.9zM197.2 183.3h0.9v0.9h-0.9zM193.1 191.2h0.9v0.9h-0.9zM209.0 185.5h0.9v0.9h-0.9zM219.7 193.3h0.9v0.9h-0.9zM214.3 188.4h0.9v0.9h-0.9zM211.6 188.8h0.9v0.9h-0.9zM203.2 187.1h0.9v0.9h-0.9zM192.9 181.3h0.9v0.9h-0.9zM244.9 193.4h0.9v0.9h-0.9zM202.0 188.5h0.9v0.9h-0.9zM205.9 174.3h0.9v0.9h-0.9zM209.1 193.2h0.9v0.9h-0.9zM224.2 189.0h0.9v0.9h-0.9zM206.5 178.8h0.9v0.9h-0.9zM237.2 193.6h0.9v0.9h-0.9zM206.2 170.7h0.9v0.9h-0.9zM203.5 186.1h0.9v0.9h-0.9zM221.8 188.2h0.9v0.9h-0.9zM215.2 177.8h0.9v0.9h-0.9zM204.8 200.0h0.9v0.9h-0.9zM208.8 194.0h0.9v0.9h-0.9zM196.1 183.5h0.9v0.9h-0.9zM222.5 197.6h0.9v0.9h-0.9zM203.8 191.4h0.9v0.9h-0.9zM224.2 184.1h0.9v0.9h-0.9zM225.4 183.0h0.9v0.9h-0.9zM208.3 187.3h0.9v0.9h-0.9zM182.4 182.7h0.9v0.9h-0.9zM205.5 175.7h0.9v0.9h-0.9zM213.3 194.1h0.9v0.9h-0.9zM213.5 198.0h0.9v0.9h-0.9zM203.3 176.5h0.9v0.9h-0.9zM239.9 195.2h0.9v0.9h-0.9zM231.8 184.5h0.9v0.9h-0.9zM229.9 192.6h0.9v0.9h-0.9zM227.8 190.5h0.9v0.9h-0.9zM235.3 186.4h0.9v0.9h-0.9zM206.0 175.6h0.9v0.9h-0.9zM234.7 185.6h0.9v0.9h-0.9zM204.9 179.6h0.9v0.9h-0.9zM213.0 178.3h0.9v0.9h-0.9zM215.1 183.6h0.9v0.9h-0.9zM211.6 180.5h0.9v0.9h-0.9zM219.5 185.5h0.9v0.9h-0.9zM220.6 191.2h0.9v0.9h-0.9zM223.6 172.7h0.9v0.9h-0.9zM211.8 181.8h0.9v0.9h-0.9zM229.5 178.3h0.9v0.9h-0.9zM209.4 185.3h0.9v0.9h-0.9zM214.5 196.0h0.9v0.9h-0.9zM213.0 195.6h0.9v0.9h-0.9zM199.2 172.0h0.9v0.9h-0.9zM235.5 194.8h0.9v0.9h-0.9zM225.6 190.9h0.9v0.9h-0.9zM225.5 180.6h0.9v0.9h-0.9zM231.8 186.8h0.9v0.9h-0.9zM232.3 191.7h0.9v0.9h-0.9zM192.4 175.1h0.9v0.9h-0.9zM234.2 190.2h0.9v0.9h-0.9zM213.7 190.1h0.9v0.9h-0.9zM213.3 183.9h0.9v0.9h-0.9zM220.4 190.3h0.9v0.9h-0.9zM239.5 192.4h0.9v0.9h-0.9zM242.2 200.7h0.9v0.9h-0.9zM220.8 190.3h0.9v0.9h-0.9zM217.1 183.1h0.9v0.9h-0.9zM218.1 183.9h0.9v0.9h-0.9zM241.1 196.4h0.9v0.9h-0.9zM213.0 173.3h0.9v0.9h-0.9zM218.3 185.7h0.9v0.9h-0.9zM204.3 178.0h0.9v0.9h-0.9zM188.6 188.9h0.9v0.9h-0.9zM218.6 187.8h0.9v0.9h-0.9zM238.5 192.9h0.9v0.9h-0.9zM221.3 186.5h0.9v0.9h-0.9zM210.8 199.4h0.9v0.9h-0.9zM214.3 188.5h0.9v0.9h-0.9zM207.1 194.7h0.9v0.9h-0.9zM200.2 190.6h0.9v0.9h-0.9zM206.3 195.6h0.9v0.9h-0.9zM209.4 181.7h0.9v0.9h-0.9zM201.1 195.3h0.9v0.9h-0.9zM241.3 187.7h0.9v0.9h-0.9zM208.7 184.9h0.9v0.9h-0.9zM211.7 174.0h0.9v0.9h-0.9zM209.9 196.9h0.9v0.9h-0.9zM244.2 190.7h0.9v0.9h-0.9zM209.7 183.7h0.9v0.9h-0.9zM193.5 192.3h0.9v0.9h-0.9zM204.3 195.1h0.9v0.9h-0.9zM195.9 175.7h0.9v0.9h-0.9zM222.9 183.7h0.9v0.9h-0.9zM229.5 190.6h0.9v0.9h-0.9zM203.1 191.5h0.9v0.9h-0.9zM230.4 175.9h0.9v0.9h-0.9zM243.7 196.5h0.9v0.9h-0.9zM229.3 176.1h0.9v0.9h-0.9zM209.3 184.9h0.9v0.9h-0.9zM233.5 179.8h0.9v0.9h-0.9zM207.1 171.5h0.9v0.9h-0.9zM215.7 191.2h0.9v0.9h-0.9zM196.2 181.0h0.9v0.9h-0.9zM228.0 188.0h0.9v0.9h-0.9zM203.1 179.4h0.9v0.9h-0.9zM210.0 188.8h0.9v0.9h-0.9zM222.9 181.3h0.9v0.9h-0.9zM239.8 199.4h0.9v0.9h-0.9zM220.4 183.6h0.9v0.9h-0.9zM193.7 177.3h0.9v0.9h-0.9zM231.3 184.6h0.9v0.9h-0.9zM201.2 187.9h0.9v0.9h-0.9zM222.3 194.2h0.9v0.9h-0.9zM227.8 201.2h0.9v0.9h-0.9zM207.7 194.9h0.9v0.9h-0.9zM205.7 192.4h0.9v0.9h-0.9zM221.4 191.2h0.9v0.9h-0.9zM232.1 190.8h0.9v0.9h-0.9zM234.0 198.0h0.9v0.9h-0.9zM220.8 184.9h0.9v0.9h-0.9zM208.8 183.4h0.9v0.9h-0.9zM216.3 188.4h0.9v0.9h-0.9zM229.4 183.9h0.9v0.9h-0.9zM209.4 185.1h0.9v0.9h-0.9zM221.6 181.4h0.9v0.9h-0.9zM240.8 187.9h0.9v0.9h-0.9zM233.6 173.1h0.9v0.9h-0.9zM218.9 191.1h0.9v0.9h-0.9zM221.6 194.0h0.9v0.9h-0.9zM222.8 190.8h0.9v0.9h-0.9zM193.5 179.7h0.9v0.9h-0.9zM187.4 189.2h0.9v0.9h-0.9zM223.2 188.1h0.9v0.9h-0.9zM207.9 182.9h0.9v0.9h-0.9zM218.2 198.9h0.9v0.9h-0.9zM197.6 170.8h0.9v0.9h-0.9zM212.5 181.3h0.9v0.9h-0.9zM211.5 189.3h0.9v0.9h-0.9zM219.7 191.2h0.9v0.9h-0.9zM218.5 196.1h0.9v0.9h-0.9zM243.0 182.9h0.9v0.9h-0.9zM221.2 187.3h0.9v0.9h-0.9zM223.8 177.8h0.9v0.9h-0.9zM226.1 191.5h0.9v0.9h-0.9zM220.0 170.8h0.9v0.9h-0.9zM214.0 182.4h0.9v0.9h-0.9zM199.9 179.1h0.9v0.9h-0.9zM228.4 194.6h0.9v0.9h-0.9zM218.7 192.9h0.9v0.9h-0.9zM210.9 188.3h0.9v0.9h-0.9zM219.5 193.4h0.9v0.9h-0.9zM218.1 187.8h0.9v0.9h-0.9zM217.2 183.7h0.9v0.9h-0.9zM237.9 179.7h0.9v0.9h-0.9zM228.4 196.9h0.9v0.9h-0.9zM229.4 181.4h0.9v0.9h-0.9zM207.2 189.3h0.9v0.9h-0.9zM225.8 182.1h0.9v0.9h-0.9zM213.8 185.1h0.9v0.9h-0.9zM219.8 191.7h0.9v0.9h-0.9zM215.1 178.8h0.9v0.9h-0.9zM217.6 196.7h0.9v0.9h-0.9zM225.0 195.0h0.9v0.9h-0.9zM225.5 184.1h0.9v0.9h-0.9zM226.7 198.0h0.9v0.9h-0.9zM245.9 198.7h0.9v0.9h-0.9zM214.4 183.7h0.9v0.9h-0.9zM208.0 188.3h0.9v0.9h-0.9zM218.6 194.1h0.9v0.9h-0.9zM228.1 194.0h0.9v0.9h-0.9zM222.7 187.9h0.9v0.9h-0.9zM217.3 182.4h0.9v0.9h-0.9zM221.4 189.2h0.9v0.9h-0.9zM223.3 183.0h0.9v0.9h-0.9zM219.5 189.4h0.9v0.9h-0.9zM227.2 182.0h0.9v0.9h-0.9zM224.7 197.5h0.9v0.9h-0.9zM227.1 187.3h0.9v0.9h-0.9zM212.4 186.2h0.9v0.9h-0.9zM216.9 183.7h0.9v0.9h-0.9zM224.1 191.3h0.9v0.9h-0.9zM206.7 181.5h0.9v0.9h-0.9zM217.6 194.0h0.9v0.9h-0.9zM202.9 178.7h0.9v0.9h-0.9zM225.7 180.5h0.9v0.9h-0.9zM220.5 191.9h0.9v0.9h-0.9zM217.5 180.9h0.9v0.9h-0.9zM218.2 186.3h0.9v0.9h-0.9zM223.5 183.2h0.9v0.9h-0.9zM233.7 178.2h0.9v0.9h-0.9zM216.6 188.7h0.9v0.9h-0.9zM232.0 186.2h0.9v0.9h-0.9zM226.4 185.7h0.9v0.9h-0.9zM213.6 191.6h0.9v0.9h-0.9zM206.5 194.7h0.9v0.9h-0.9zM235.3 191.7h0.9v0.9h-0.9zM203.7 189.8h0.9v0.9h-0.9zM234.5 199.7h0.9v0.9h-0.9zM230.0 176.4h0.9v0.9h-0.9zM209.8 198.7h0.9v0.9h-0.9zM202.4 195.3h0.9v0.9h-0.9zM244.4 198.7h0.9v0.9h-0.9zM234.1 188.7h0.9v0.9h-0.9zM202.5 185.8h0.9v0.9h-0.9zM216.3 188.2h0.9v0.9h-0.9zM228.4 189.3h0.9v0.9h-0.9zM221.6 192.7h0.9v0.9h-0.9zM225.0 190.5h0.9v0.9h-0.9zM216.2 183.7h0.9v0.9h-0.9zM237.1 192.9h0.9v0.9h-0.9zM204.4 182.5h0.9v0.9h-0.9zM217.2 185.3h0.9v0.9h-0.9zM233.6 182.2h0.9v0.9h-0.9zM225.6 191.1h0.9v0.9h-0.9zM203.1 187.0h0.9v0.9h-0.9zM217.7 192.7h0.9v0.9h-0.9zM212.9 190.4h0.9v0.9h-0.9zM196.5 177.3h0.9v0.9h-0.9zM229.6 198.6h0.9v0.9h-0.9zM218.8 184.3h0.9v0.9h-0.9zM233.6 175.0h0.9v0.9h-0.9zM208.2 192.6h0.9v0.9h-0.9zM227.8 182.3h0.9v0.9h-0.9zM193.5 196.5h0.9v0.9h-0.9zM221.1 182.4h0.9v0.9h-0.9zM219.7 196.1h0.9v0.9h-0.9zM184.0 192.4h0.9v0.9h-0.9zM229.0 174.4h0.9v0.9h-0.9zM229.4 176.8h0.9v0.9h-0.9zM234.4 194.4h0.9v0.9h-0.9zM219.1 197.1h0.9v0.9h-0.9zM210.4 182.3h0.9v0.9h-0.9zM214.0 187.7h0.9v0.9h-0.9zM204.4 190.6h0.9v0.9h-0.9zM226.3 190.6h0.9v0.9h-0.9zM242.0 189.9h0.9v0.9h-0.9zM236.6 187.4h0.9v0.9h-0.9zM229.2 175.5h0.9v0.9h-0.9zM221.7 188.0h0.9v0.9h-0.9zM212.3 183.3h0.9v0.9h-0.9zM214.3 182.7h0.9v0.9h-0.9zM189.4 180.0h0.9v0.9h-0.9zM211.6 183.8h0.9v0.9h-0.9zM204.7 185.8h0.9v0.9h-0.9zM229.6 188.6h0.9v0.9h-0.9zM212.3 198.5h0.9v0.9h-0.9zM232.2 198.1h0.9v0.9h-0.9zM234.6 188.8h0.9v0.9h-0.9zM217.3 197.4h0.9v0.9h-0.9zM211.5 187.0h0.9v0.9h-0.9zM224.1 192.6h0.9v0.9h-0.9zM215.3 196.1h0.9v0.9h-0.9zM216.6 194.3h0.9v0.9h-0.9zM233.5 196.2h0.9v0.9h-0.9zM228.9 181.5h0.9v0.9h-0.9zM201.3 181.6h0.9v0.9h-0.9zM202.5 188.9h0.9v0.9h-0.9zM207.5 181.6h0.9v0.9h-0.9zM215.3 193.8h0.9v0.9h-0.9zM221.9 198.6h0.9v0.9h-0.9zM205.7 193.9h0.9v0.9h-0.9zM231.6 191.4h0.9v0.9h-0.9zM225.4 185.6h0.9v0.9h-0.9zM204.3 183.7h0.9v0.9h-0.9zM212.5 200.8h0.9v0.9h-0.9zM221.7 191.8h0.9v0.9h-0.9zM229.0 184.5h0.9v0.9h-0.9zM231.4 193.7h0.9v0.9h-0.9zM198.5 190.6h0.9v0.9h-0.9zM226.5 193.6h0.9v0.9h-0.9zM240.4 189.0h0.9v0.9h-0.9zM225.9 195.8h0.9v0.9h-0.9zM206.8 196.5h0.9v0.9h-0.9zM199.4 176.0h0.9v0.9h-0.9zM226.1 181.6h0.9v0.9h-0.9zM217.4 176.0h0.9v0.9h-0.9zM219.9 180.4h0.9v0.9h-0.9zM223.6 177.8h0.9v0.9h-0.9zM225.1 187.8h0.9v0.9h-0.9zM219.9 188.6h0.9v0.9h-0.9zM220.8 179.0h0.9v0.9h-0.9zM184.4 184.1h0.9v0.9h-0.9zM206.4 183.6h0.9v0.9h-0.9zM224.8 174.5h0.9v0.9h-0.9zM208.7 182.7h0.9v0.9h-0.9zM204.7 189.4h0.9v0.9h-0.9zM217.1 182.4h0.9v0.9h-0.9zM205.7 193.3h0.9v0.9h-0.9zM210.1 192.2h0.9v0.9h-0.9zM225.1 175.2h0.9v0.9h-0.9zM204.4 186.9h0.9v0.9h-0.9zM223.6 195.7h0.9v0.9h-0.9zM229.8 198.6h0.9v0.9h-0.9zM214.0 186.6h0.9v0.9h-0.9zM229.5 187.3h0.9v0.9h-0.9zM233.3 178.8h0.9v0.9h-0.9zM227.8 189.0h0.9v0.9h-0.9zM192.4 192.7h0.9v0.9h-0.9zM223.2 189.8h0.9v0.9h-0.9zM204.5 183.2h0.9v0.9h-0.9zM239.4 185.6h0.9v0.9h-0.9zM202.8 185.6h0.9v0.9h-0.9zM213.7 181.1h0.9v0.9h-0.9zM207.6 195.4h0.9v0.9h-0.9zM199.5 201.3h0.9v0.9h-0.9zM211.7 179.4h0.9v0.9h-0.9zM229.6 194.9h0.9v0.9h-0.9zM204.9 192.7h0.9v0.9h-0.9zM194.2 178.2h0.9v0.9h-0.9zM234.2 189.3h0.9v0.9h-0.9zM201.4 190.4h0.9v0.9h-0.9zM231.4 190.7h0.9v0.9h-0.9zM194.6 182.7h0.9v0.9h-0.9zM224.6 195.8h0.9v0.9h-0.9zM244.0 190.7h0.9v0.9h-0.9zM212.5 187.7h0.9v0.9h-0.9zM235.3 184.1h0.9v0.9h-0.9zM236.6 170.3h0.9v0.9h-0.9zM229.8 185.4h0.9v0.9h-0.9zM225.2 195.3h0.9v0.9h-0.9zM203.0 186.0h0.9v0.9h-0.9zM222.2 194.0h0.9v0.9h-0.9zM206.4 179.5h0.9v0.9h-0.9zM216.4 186.9h0.9v0.9h-0.9zM198.8 193.2h0.9v0.9h-0.9zM211.8 199.1h0.9v0.9h-0.9zM230.5 190.9h0.9v0.9h-0.9zM228.8 181.8h0.9v0.9h-0.9zM214.6 183.9h0.9v0.9h-0.9zM201.9 186.6h0.9v0.9h-0.9zM217.0 199.8h0.9v0.9h-0.9zM206.6 183.6h0.9v0.9h-0.9zM224.7 193.0h0.9v0.9h-0.9zM219.4 185.4h0.9v0.9h-0.9zM225.7 192.8h0.9v0.9h-0.9zM194.1 183.3h0.9v0.9h-0.9zM200.4 177.1h0.9v0.9h-0.9zM221.0 189.8h0.9v0.9h-0.9zM220.5 182.4h0.9v0.9h-0.9zM216.3 181.5h0.9v0.9h-0.9zM224.2 195.1h0.9v0.9h-0.9zM208.1 183.8h0.9v0.9h-0.9zM206.3 189.5h0.9v0.9h-0.9zM245.7 198.4h0.9v0.9h-0.9zM189.3 174.9h0.9v0.9h-0.9zM201.6 190.4h0.9v0.9h-0.9zM219.0 191.3h0.9v0.9h-0.9zM243.1 186.2h0.9v0.9h-0.9zM223.6 183.7h0.9v0.9h-0.9zM191.6 173.1h0.9v0.9h-0.9zM186.0 184.6h0.9v0.9h-0.9zM219.6 196.8h0.9v0.9h-0.9zM217.1 183.3h0.9v0.9h-0.9zM195.2 186.8h0.9v0.9h-0.9zM219.3 193.8h0.9v0.9h-0.9zM213.5 192.1h0.9v0.9h-0.9zM230.0 189.5h0.9v0.9h-0.9zM212.8 186.6h0.9v0.9h-0.9zM206.0 185.5h0.9v0.9h-0.9zM214.9 190.0h0.9v0.9h-0.9zM213.0 192.8h0.9v0.9h-0.9zM223.0 195.5h0.9v0.9h-0.9zM219.3 191.1h0.9v0.9h-0.9zM212.7 182.0h0.9v0.9h-0.9zM230.8 200.8h0.9v0.9h-0.9zM227.9 193.7h0.9v0.9h-0.9zM222.6 186.0h0.9v0.9h-0.9zM194.9 190.6h0.9v0.9h-0.9zM242.6 148.3h0.9v0.9h-0.9zM239.1 154.8h0.9v0.9h-0.9zM236.6 157.3h0.9v0.9h-0.9zM243.9 155.2h0.9v0.9h-0.9zM239.8 151.0h0.9v0.9h-0.9zM240.5 151.2h0.9v0.9h-0.9zM241.4 148.4h0.9v0.9h-0.9zM245.2 146.3h0.9v0.9h-0.9zM240.5 152.2h0.9v0.9h-0.9zM240.4 149.7h0.9v0.9h-0.9zM245.0 160.9h0.9v0.9h-0.9zM240.6 160.9h0.9v0.9h-0.9zM236.0 160.7h0.9v0.9h-0.9zM242.3 160.2h0.9v0.9h-0.9zM241.0 160.5h0.9v0.9h-0.9zM231.3 161.0h0.9v0.9h-0.9zM233.9 160.8h0.9v0.9h-0.9zM242.3 160.3h0.9v0.9h-0.9zM232.1 160.2h0.9v0.9h-0.9zM240.0 160.5h0.9v0.9h-0.9zM236.5 160.9h0.9v0.9h-0.9zM235.1 160.7h0.9v0.9h-0.9zM232.6 160.5h0.9v0.9h-0.9zM238.4 160.3h0.9v0.9h-0.9zM245.5 160.7h0.9v0.9h-0.9zM244.9 159.8h0.9v0.9h-0.9zM232.7 160.6h0.9v0.9h-0.9zM242.6 160.7h0.9v0.9h-0.9zM242.4 160.4h0.9v0.9h-0.9zM242.3 160.9h0.9v0.9h-0.9zM242.8 160.6h0.9v0.9h-0.9zM237.5 161.4h0.9v0.9h-0.9zM241.9 160.7h0.9v0.9h-0.9zM245.5 160.8h0.9v0.9h-0.9zM243.3 160.6h0.9v0.9h-0.9zM229.5 160.5h0.9v0.9h-0.9zM233.5 160.7h0.9v0.9h-0.9zM238.1 160.9h0.9v0.9h-0.9zM229.5 160.4h0.9v0.9h-0.9zM234.0 161.1h0.9v0.9h-0.9zM244.6 160.0h0.9v0.9h-0.9zM235.7 160.3h0.9v0.9h-0.9zM239.0 160.5h0.9v0.9h-0.9zM226.5 160.3h0.9v0.9h-0.9zM244.6 160.7h0.9v0.9h-0.9zM229.6 160.3h0.9v0.9h-0.9zM244.8 160.5h0.9v0.9h-0.9zM235.4 160.5h0.9v0.9h-0.9zM232.1 160.7h0.9v0.9h-0.9zM245.5 160.3h0.9v0.9h-0.9zM243.5 161.1h0.9v0.9h-0.9zM238.3 160.9h0.9v0.9h-0.9zM243.5 160.8h0.9v0.9h-0.9zM231.5 160.3h0.9v0.9h-0.9zM245.9 159.8h0.9v0.9h-0.9zM242.7 161.0h0.9v0.9h-0.9zM243.4 160.9h0.9v0.9h-0.9zM239.3 160.1h0.9v0.9h-0.9zM230.1 160.5h0.9v0.9h-0.9zM240.2 160.2h0.9v0.9h-0.9zM245.7 161.1h0.9v0.9h-0.9zM229.7 161.1h0.9v0.9h-0.9zM242.9 160.7h0.9v0.9h-0.9zM240.7 160.3h0.9v0.9h-0.9zM246.2 160.3h0.9v0.9h-0.9zM235.6 160.2h0.9v0.9h-0.9zM230.3 160.3h0.9v0.9h-0.9zM234.5 160.9h0.9v0.9h-0.9zM236.8 161.0h0.9v0.9h-0.9zM242.5 161.1h0.9v0.9h-0.9zM235.3 160.6h0.9v0.9h-0.9zM239.1 161.1h0.9v0.9h-0.9zM245.8 160.4h0.9v0.9h-0.9zM245.2 160.9h0.9v0.9h-0.9zM233.0 160.3h0.9v0.9h-0.9zM244.3 160.5h0.9v0.9h-0.9zM240.7 160.6h0.9v0.9h-0.9zM242.4 160.4h0.9v0.9h-0.9zM241.5 159.9h0.9v0.9h-0.9zM244.5 160.8h0.9v0.9h-0.9zM232.2 160.5h0.9v0.9h-0.9zM234.6 161.0h0.9v0.9h-0.9zM230.4 160.5h0.9v0.9h-0.9zM242.9 160.9h0.9v0.9h-0.9zM239.2 160.9h0.9v0.9h-0.9zM239.5 160.8h0.9v0.9h-0.9zM237.7 160.7h0.9v0.9h-0.9zM227.7 160.7h0.9v0.9h-0.9zM246.4 160.6h0.9v0.9h-0.9zM243.1 160.4h0.9v0.9h-0.9zM246.3 160.4h0.9v0.9h-0.9zM239.8 160.5h0.9v0.9h-0.9zM239.0 160.8h0.9v0.9h-0.9zM227.5 161.1h0.9v0.9h-0.9zM245.6 160.3h0.9v0.9h-0.9zM245.8 160.2h0.9v0.9h-0.9zM242.2 160.6h0.9v0.9h-0.9zM232.9 160.9h0.9v0.9h-0.9zM228.9 160.7h0.9v0.9h-0.9zM236.5 159.8h0.9v0.9h-0.9zM234.1 160.1h0.9v0.9h-0.9zM245.7 160.0h0.9v0.9h-0.9zM233.7 160.8h0.9v0.9h-0.9zM243.4 159.9h0.9v0.9h-0.9zM237.1 160.9h0.9v0.9h-0.9zM236.2 161.8h0.9v0.9h-0.9zM240.8 160.0h0.9v0.9h-0.9zM245.2 161.0h0.9v0.9h-0.9zM226.8 164.6h0.9v0.9h-0.9zM242.1 152.3h0.9v0.9h-0.9zM243.3 150.0h0.9v0.9h-0.9zM246.8 155.1h0.9v0.9h-0.9zM239.9 163.9h0.9v0.9h-0.9zM235.7 159.5h0.9v0.9h-0.9zM228.9 162.8h0.9v0.9h-0.9zM232.0 162.8h0.9v0.9h-0.9zM247.1 164.3h0.9v0.9h-0.9zM226.7 165.2h0.9v0.9h-0.9zM232.9 159.9h0.9v0.9h-0.9zM222.9 166.5h0.9v0.9h-0.9zM245.5 150.3h0.9v0.9h-0.9zM238.5 162.2h0.9v0.9h-0.9zM242.6 156.7h0.9v0.9h-0.9zM238.4 161.4h0.9v0.9h-0.9zM238.7 156.7h0.9v0.9h-0.9zM245.1 148.6h0.9v0.9h-0.9zM232.0 164.1h0.9v0.9h-0.9zM238.8 158.0h0.9v0.9h-0.9zM236.8 163.9h0.9v0.9h-0.9zM229.1 164.8h0.9v0.9h-0.9zM239.1 152.6h0.9v0.9h-0.9zM246.3 148.4h0.9v0.9h-0.9zM247.2 146.0h0.9v0.9h-0.9zM242.0 152.5h0.9v0.9h-0.9zM227.9 163.5h0.9v0.9h-0.9zM241.8 160.9h0.9v0.9h-0.9zM241.1 151.1h0.9v0.9h-0.9zM239.5 156.5h0.9v0.9h-0.9zM235.7 162.3h0.9v0.9h-0.9zM246.0 166.3h0.9v0.9h-0.9zM232.8 160.3h0.9v0.9h-0.9zM238.9 165.4h0.9v0.9h-0.9zM242.6 159.2h0.9v0.9h-0.9zM241.3 159.0h0.9v0.9h-0.9zM240.4 157.1h0.9v0.9h-0.9zM237.9 165.0h0.9v0.9h-0.9zM232.5 158.8h0.9v0.9h-0.9zM240.7 164.6h0.9v0.9h-0.9zM245.6 160.5h0.9v0.9h-0.9zM229.5 163.3h0.9v0.9h-0.9zM234.5 161.1h0.9v0.9h-0.9zM240.9 162.4h0.9v0.9h-0.9zM241.2 164.5h0.9v0.9h-0.9zM240.1 157.0h0.9v0.9h-0.9zM228.9 164.4h0.9v0.9h-0.9zM228.5 164.3h0.9v0.9h-0.9zM245.7 154.5h0.9v0.9h-0.9zM243.5 152.3h0.9v0.9h-0.9zM230.3 159.9h0.9v0.9h-0.9zM243.6 164.4h0.9v0.9h-0.9zM245.2 157.8h0.9v0.9h-0.9zM232.3 158.5h0.9v0.9h-0.9zM241.0 153.7h0.9v0.9h-0.9zM231.1 160.7h0.9v0.9h-0.9zM227.7 165.8h0.9v0.9h-0.9zM237.4 167.0h0.9v0.9h-0.9zM241.5 162.5h0.9v0.9h-0.9zM235.7 158.2h0.9v0.9h-0.9zM238.5 154.1h0.9v0.9h-0.9zM242.0 151.6h0.9v0.9h-0.9zM241.0 151.7h0.9v0.9h-0.9zM245.8 162.5h0.9v0.9h-0.9zM243.9 159.3h0.9v0.9h-0.9zM244.2 153.0h0.9v0.9h-0.9zM245.1 163.7h0.9v0.9h-0.9zM237.4 156.7h0.9v0.9h-0.9zM246.8 150.6h0.9v0.9h-0.9zM226.9 164.4h0.9v0.9h-0.9zM229.7 163.1h0.9v0.9h-0.9zM244.8 164.0h0.9v0.9h-0.9zM246.5 151.7h0.9v0.9h-0.9zM234.6 164.5h0.9v0.9h-0.9zM238.9 154.4h0.9v0.9h-0.9zM241.3 164.5h0.9v0.9h-0.9zM225.3 166.9h0.9v0.9h-0.9zM244.8 162.3h0.9v0.9h-0.9zM240.9 161.3h0.9v0.9h-0.9zM243.1 158.9h0.9v0.9h-0.9zM231.4 159.8h0.9v0.9h-0.9zM240.6 155.2h0.9v0.9h-0.9zM244.9 148.1h0.9v0.9h-0.9zM224.6 166.4h0.9v0.9h-0.9zM231.6 162.5h0.9v0.9h-0.9zM245.8 149.9h0.9v0.9h-0.9zM226.4 166.4h0.9v0.9h-0.9z" fill="#1a1a1a"/>
<line x1="262.5" y1="203.2" x2="330.4" y2="203.2" stroke="#222" stroke-width="1.0" />
<line x1="330.4" y1="137.0" x2="330.4" y2="203.2" stroke="#444" stroke-width="0.8" />
<line x1="262.5" y1="137.0" x2="330.4" y2="137.0" stroke="#aaa" stroke-width="0.8" />
<line x1="262.5" y1="137.0" x2="262.5" y2="203.2" stroke="#777" stroke-width="0.6" />
<line x1="302.2" y1="137.0" x2="302.2" y2="203.2" stroke="#444" stroke-width="0.85" />
<line x1="262.5" y1="169.4" x2="330.4" y2="169.4" stroke="#444" stroke-width="0.85" />
<line x1="260.5" y1="203.2" x2="262.5" y2="203.2" stroke="#333" stroke-width="0.7" />
<line x1="261.3" y1="198.2179535717611" x2="262.5" y2="198.2179535717611" stroke="#555" stroke-width="0.5" />
<line x1="261.3" y1="195.30364323438957" x2="262.5" y2="195.30364323438957" stroke="#555" stroke-width="0.5" />
<line x1="261.3" y1="193.2359071435222" x2="262.5" y2="193.2359071435222" stroke="#555" stroke-width="0.5" />
<line x1="261.3" y1="191.63204642823888" x2="262.5" y2="191.63204642823888" stroke="#555" stroke-width="0.5" />
<line x1="261.3" y1="190.3215968061507" x2="262.5" y2="190.3215968061507" stroke="#555" stroke-width="0.5" />
<line x1="261.3" y1="189.21362743776405" x2="262.5" y2="189.21362743776405" stroke="#555" stroke-width="0.5" />
<line x1="261.3" y1="188.25386071528334" x2="262.5" y2="188.25386071528334" stroke="#555" stroke-width="0.5" />
<line x1="261.3" y1="187.40728646877918" x2="262.5" y2="187.40728646877918" stroke="#555" stroke-width="0.5" />
<line x1="260.5" y1="186.64999999999998" x2="262.5" y2="186.64999999999998" stroke="#333" stroke-width="0.7" />
<line x1="261.3" y1="181.66795357176107" x2="262.5" y2="181.66795357176107" stroke="#555" stroke-width="0.5" />
<line x1="261.3" y1="178.75364323438956" x2="262.5" y2="178.75364323438956" stroke="#555" stroke-width="0.5" />
<line x1="261.3" y1="176.6859071435222" x2="262.5" y2="176.6859071435222" stroke="#555" stroke-width="0.5" />
<line x1="261.3" y1="175.08204642823887" x2="262.5" y2="175.08204642823887" stroke="#555" stroke-width="0.5" />
<line x1="261.3" y1="173.77159680615068" x2="262.5" y2="173.77159680615068" stroke="#555" stroke-width="0.5" />
<line x1="261.3" y1="172.66362743776403" x2="262.5" y2="172.66362743776403" stroke="#555" stroke-width="0.5" />
<line x1="261.3" y1="171.70386071528333" x2="262.5" y2="171.70386071528333" stroke="#555" stroke-width="0.5" />
<line x1="261.3" y1="170.85728646877917" x2="262.5" y2="170.85728646877917" stroke="#555" stroke-width="0.5" />
<line x1="260.5" y1="170.1" x2="262.5" y2="170.1" stroke="#333" stroke-width="0.7" />
<line x1="261.3" y1="165.11795357176112" x2="262.5" y2="165.11795357176112" stroke="#555" stroke-width="0.5" />
<line x1="261.3" y1="162.20364323438957" x2="262.5" y2="162.20364323438957" stroke="#555" stroke-width="0.5" />
<line x1="261.3" y1="160.13590714352222" x2="262.5" y2="160.13590714352222" stroke="#555" stroke-width="0.5" />
<line x1="261.3" y1="158.53204642823889" x2="262.5" y2="158.53204642823889" stroke="#555" stroke-width="0.5" />
<line x1="261.3" y1="157.2215968061507" x2="262.5" y2="157.2215968061507" stroke="#555" stroke-width="0.5" />
<line x1="261.3" y1="156.11362743776405" x2="262.5" y2="156.11362743776405" stroke="#555" stroke-width="0.5" />
<line x1="261.3" y1="155.15386071528334" x2="262.5" y2="155.15386071528334" stroke="#555" stroke-width="0.5" />
<line x1="261.3" y1="154.30728646877918" x2="262.5" y2="154.30728646877918" stroke="#555" stroke-width="0.5" />
<line x1="260.5" y1="153.55" x2="262.5" y2="153.55" stroke="#333" stroke-width="0.7" />
<line x1="261.3" y1="148.5679535717611" x2="262.5" y2="148.5679535717611" stroke="#555" stroke-width="0.5" />
<line x1="261.3" y1="145.6536432343896" x2="262.5" y2="145.6536432343896" stroke="#555" stroke-width="0.5" />
<line x1="261.3" y1="143.58590714352223" x2="262.5" y2="143.58590714352223" stroke="#555" stroke-width="0.5" />
<line x1="261.3" y1="141.9820464282389" x2="262.5" y2="141.9820464282389" stroke="#555" stroke-width="0.5" />
<line x1="261.3" y1="140.67159680615072" x2="262.5" y2="140.67159680615072" stroke="#555" stroke-width="0.5" />
<line x1="261.3" y1="139.56362743776407" x2="262.5" y2="139.56362743776407" stroke="#555" stroke-width="0.5" />
<line x1="261.3" y1="138.60386071528336" x2="262.5" y2="138.60386071528336" stroke="#555" stroke-width="0.5" />
<line x1="261.3" y1="137.7572864687792" x2="262.5" y2="137.7572864687792" stroke="#555" stroke-width="0.5" />
<line x1="260.5" y1="137.0" x2="262.5" y2="137.0" stroke="#333" stroke-width="0.7" />
<line x1="262.5" y1="203.2" x2="262.5" y2="204.7" stroke="#333" stroke-width="0.7" />
<line x1="279.475" y1="203.2" x2="279.475" y2="204.7" stroke="#333" stroke-width="0.7" />
<line x1="296.45" y1="203.2" x2="296.45" y2="204.7" stroke="#333" stroke-width="0.7" />
<line x1="313.42499999999995" y1="203.2" x2="313.42499999999995" y2="204.7" stroke="#333" stroke-width="0.7" />
<line x1="330.4" y1="203.2" x2="330.4" y2="204.7" stroke="#333" stroke-width="0.7" />
<path d="M303.4 182.9h0.9v0.9h-0.9zM287.4 178.1h0.9v0.9h-0.9zM298.2 183.7h0.9v0.9h-0.9zM302.9 177.1h0.9v0.9h-0.9zM301.1 180.3h0.9v0.9h-0.9zM293.2 179.9h0.9v0.9h-0.9zM297.7 183.7h0.9v0.9h-0.9zM290.2 182.1h0.9v0.9h-0.9zM295.4 179.0h0.9v0.9h-0.9zM299.0 178.8h0.9v0.9h-0.9zM292.1 180.5h0.9v0.9h-0.9zM295.0 178.8h0.9v0.9h-0.9zM292.3 183.5h0.9v0.9h-0.9zM295.2 181.6h0.9v0.9h-0.9zM294.4 183.1h0.9v0.9h-0.9zM300.7 180.8h0.9v0.9h-0.9zM298.6 179.0h0.9v0.9h-0.9zM294.5 177.9h0.9v0.9h-0.9zM291.8 188.4h0.9v0.9h-0.9zM290.2 183.8h0.9v0.9h-0.9zM295.9 181.6h0.9v0.9h-0.9zM284.0 180.8h0.9v0.9h-0.9zM287.2 178.8h0.9v0.9h-0.9zM290.8 179.7h0.9v0.9h-0.9zM303.6 185.5h0.9v0.9h-0.9zM285.7 179.4h0.9v0.9h-0.9zM290.5 181.0h0.9v0.9h-0.9zM286.0 176.7h0.9v0.9h-0.9zM294.1 178.8h0.9v0.9h-0.9zM299.8 180.3h0.9v0.9h-0.9zM295.5 179.7h0.9v0.9h-0.9zM298.4 184.0h0.9v0.9h-0.9zM294.1 179.5h0.9v0.9h-0.9zM297.4 181.2h0.9v0.9h-0.9zM299.3 181.2h0.9v0.9h-0.9zM295.0 182.8h0.9v0.9h-0.9zM290.4 177.4h0.9v0.9h-0.9zM296.8 180.4h0.9v0.9h-0.9zM297.5 183.0h0.9v0.9h-0.9zM296.3 179.4h0.9v0.9h-0.9zM302.3 175.4h0.9v0.9h-0.9zM290.6 177.5h0.9v0.9h-0.9zM304.4 180.4h0.9v0.9h-0.9zM293.4 182.2h0.9v0.9h-0.9zM300.7 183.5h0.9v0.9h-0.9zM294.1 181.2h0.9v0.9h-0.9zM289.1 181.2h0.9v0.9h-0.9zM293.1 175.2h0.9v0.9h-0.9zM295.6 180.5h0.9v0.9h-0.9zM298.5 182.5h0.9v0.9h-0.9zM295.0 180.4h0.9v0.9h-0.9zM302.6 181.7h0.9v0.9h-0.9zM299.6 182.1h0.9v0.9h-0.9zM301.2 183.6h0.9v0.9h-0.9zM288.8 181.9h0.9v0.9h-0.9zM302.5 184.6h0.9v0.9h-0.9zM292.9 184.9h0.9v0.9h-0.9zM299.0 182.7h0.9v0.9h-0.9zM291.2 181.7h0.9v0.9h-0.9zM297.0 175.8h0.9v0.9h-0.9zM292.1 176.9h0.9v0.9h-0.9zM285.4 180.9h0.9v0.9h-0.9zM299.0 181.0h0.9v0.9h-0.9zM287.0 177.2h0.9v0.9h-0.9zM298.9 180.6h0.9v0.9h-0.9zM296.0 180.2h0.9v0.9h-0.9zM295.3 179.2h0.9v0.9h-0.9zM291.2 177.1h0.9v0.9h-0.9zM294.7 180.7h0.9v0.9h-0.9zM300.3 187.0h0.9v0.9h-0.9zM295.5 173.8h0.9v0.9h-0.9zM288.5 183.8h0.9v0.9h-0.9zM297.0 180.5h0.9v0.9h-0.9zM289.9 181.8h0.9v0.9h-0.9zM296.2 183.6h0.9v0.9h-0.9zM301.4 185.2h0.9v0.9h-0.9zM299.6 178.2h0.9v0.9h-0.9zM297.5 178.2h0.9v0.9h-0.9zM291.0 178.7h0.9v0.9h-0.9zM288.6 178.4h0.9v0.9h-0.9zM302.0 181.0h0.9v0.9h-0.9zM302.7 181.6h0.9v0.9h-0.9zM285.5 178.7h0.9v0.9h-0.9zM302.8 184.0h0.9v0.9h-0.9zM293.7 180.2h0.9v0.9h-0.9zM300.7 182.4h0.9v0.9h-0.9zM293.5 183.7h0.9v0.9h-0.9zM294.8 178.3h0.9v0.9h-0.9zM287.1 175.4h0.9v0.9h-0.9zM306.4 182.0h0.9v0.9h-0.9zM303.2 181.8h0.9v0.9h-0.9zM295.2 181.4h0.9v0.9h-0.9zM295.9 177.6h0.9v0.9h-0.9zM294.4 183.3h0.9v0.9h-0.9zM305.7 180.4h0.9v0.9h-0.9zM296.7 182.8h0.9v0.9h-0.9zM302.1 182.5h0.9v0.9h-0.9zM293.0 185.1h0.9v0.9h-0.9zM296.1 181.2h0.9v0.9h-0.9zM309.3 177.9h0.9v0.9h-0.9zM294.5 178.2h0.9v0.9h-0.9zM302.2 179.0h0.9v0.9h-0.9zM295.6 181.9h0.9v0.9h-0.9zM293.1 180.6h0.9v0.9h-0.9zM292.6 179.1h0.9v0.9h-0.9zM290.3 181.2h0.9v0.9h-0.9zM293.1 178.3h0.9v0.9h-0.9zM292.4 186.1h0.9v0.9h-0.9zM288.4 179.2h0.9v0.9h-0.9zM291.8 180.6h0.9v0.9h-0.9zM298.6 179.3h0.9v0.9h-0.9zM296.0 182.1h0.9v0.9h-0.9zM302.9 179.9h0.9v0.9h-0.9zM291.1 182.4h0.9v0.9h-0.9zM294.4 179.4h0.9v0.9h-0.9zM293.2 184.1h0.9v0.9h-0.9zM286.5 179.9h0.9v0.9h-0.9zM303.1 182.2h0.9v0.9h-0.9zM290.7 179.1h0.9v0.9h-0.9zM299.7 182.3h0.9v0.9h-0.9zM292.5 179.3h0.9v0.9h-0.9zM288.1 177.2h0.9v0.9h-0.9zM296.5 182.2h0.9v0.9h-0.9zM292.1 182.5h0.9v0.9h-0.9zM291.2 181.6h0.9v0.9h-0.9zM284.3 182.4h0.9v0.9h-0.9zM304.0 183.4h0.9v0.9h-0.9zM294.4 182.0h0.9v0.9h-0.9zM294.9 181.2h0.9v0.9h-0.9zM294.4 182.1h0.9v0.9h-0.9zM292.9 180.6h0.9v0.9h-0.9zM292.2 182.6h0.9v0.9h-0.9zM301.4 183.1h0.9v0.9h-0.9zM297.0 184.5h0.9v0.9h-0.9zM290.5 185.9h0.9v0.9h-0.9zM284.7 182.2h0.9v0.9h-0.9zM295.3 181.9h0.9v0.9h-0.9zM286.8 183.4h0.9v0.9h-0.9zM296.0 181.2h0.9v0.9h-0.9zM300.0 181.5h0.9v0.9h-0.9zM295.1 183.1h0.9v0.9h-0.9zM294.2 181.7h0.9v0.9h-0.9zM292.7 179.3h0.9v0.9h-0.9zM294.7 179.3h0.9v0.9h-0.9zM295.9 180.3h0.9v0.9h-0.9zM291.8 180.4h0.9v0.9h-0.9zM288.4 182.3h0.9v0.9h-0.9zM297.7 175.2h0.9v0.9h-0.9zM294.8 179.8h0.9v0.9h-0.9zM297.4 186.2h0.9v0.9h-0.9zM292.3 180.4h0.9v0.9h-0.9zM290.4 181.5h0.9v0.9h-0.9zM298.2 181.7h0.9v0.9h-0.9zM295.1 178.2h0.9v0.9h-0.9zM294.2 178.5h0.9v0.9h-0.9zM292.8 184.7h0.9v0.9h-0.9zM295.0 179.0h0.9v0.9h-0.9zM289.2 176.8h0.9v0.9h-0.9zM292.1 185.9h0.9v0.9h-0.9zM293.3 180.2h0.9v0.9h-0.9zM289.4 179.4h0.9v0.9h-0.9zM299.4 183.6h0.9v0.9h-0.9zM293.6 178.8h0.9v0.9h-0.9zM298.0 186.7h0.9v0.9h-0.9zM309.1 185.1h0.9v0.9h-0.9zM294.7 182.6h0.9v0.9h-0.9zM292.7 178.8h0.9v0.9h-0.9zM291.3 180.7h0.9v0.9h-0.9zM298.0 184.7h0.9v0.9h-0.9zM301.2 182.3h0.9v0.9h-0.9zM283.4 184.0h0.9v0.9h-0.9zM297.0 179.2h0.9v0.9h-0.9zM301.2 179.0h0.9v0.9h-0.9zM293.1 180.8h0.9v0.9h-0.9zM294.5 180.7h0.9v0.9h-0.9zM284.3 176.8h0.9v0.9h-0.9zM294.1 182.7h0.9v0.9h-0.9zM294.4 177.9h0.9v0.9h-0.9zM288.3 177.5h0.9v0.9h-0.9zM300.2 178.6h0.9v0.9h-0.9zM298.4 178.0h0.9v0.9h-0.9zM289.4 179.0h0.9v0.9h-0.9zM301.1 179.4h0.9v0.9h-0.9zM293.5 179.2h0.9v0.9h-0.9zM291.8 183.1h0.9v0.9h-0.9zM291.3 180.1h0.9v0.9h-0.9zM288.3 178.7h0.9v0.9h-0.9zM295.0 184.5h0.9v0.9h-0.9zM303.8 178.2h0.9v0.9h-0.9zM293.4 176.1h0.9v0.9h-0.9zM292.9 180.8h0.9v0.9h-0.9zM297.7 182.2h0.9v0.9h-0.9zM289.3 177.5h0.9v0.9h-0.9zM287.0 184.5h0.9v0.9h-0.9zM288.0 182.9h0.9v0.9h-0.9zM295.9 183.2h0.9v0.9h-0.9zM286.2 181.5h0.9v0.9h-0.9zM296.6 180.9h0.9v0.9h-0.9zM296.9 178.0h0.9v0.9h-0.9zM301.8 178.4h0.9v0.9h-0.9zM293.7 183.0h0.9v0.9h-0.9zM297.2 184.9h0.9v0.9h-0.9zM294.3 178.0h0.9v0.9h-0.9zM296.4 182.2h0.9v0.9h-0.9zM286.1 182.7h0.9v0.9h-0.9zM300.8 179.0h0.9v0.9h-0.9zM299.2 181.2h0.9v0.9h-0.9zM299.5 179.7h0.9v0.9h-0.9zM298.8 182.7h0.9v0.9h-0.9zM294.9 180.0h0.9v0.9h-0.9zM295.2 187.0h0.9v0.9h-0.9zM309.4 185.4h0.9v0.9h-0.9zM304.4 185.7h0.9v0.9h-0.9zM313.5 192.2h0.9v0.9h-0.9zM303.4 187.1h0.9v0.9h-0.9zM291.8 176.1h0.9v0.9h-0.9zM303.9 181.9h0.9v0.9h-0.9zM290.6 187.8h0.9v0.9h-0.9zM299.1 179.6h0.9v0.9h-0.9zM307.0 184.4h0.9v0.9h-0.9zM305.3 180.4h0.9v0.9h-0.9zM283.3 179.2h0.9v0.9h-0.9zM303.6 176.0h0.9v0.9h-0.9zM286.8 186.8h0.9v0.9h-0.9zM318.9 186.5h0.9v0.9h-0.9zM288.1 180.6h0.9v0.9h-0.9zM289.6 189.8h0.9v0.9h-0.9zM303.0 181.0h0.9v0.9h-0.9zM304.1 175.4h0.9v0.9h-0.9zM296.9 184.1h0.9v0.9h-0.9zM294.5 179.4h0.9v0.9h-0.9zM291.0 174.6h0.9v0.9h-0.9zM300.6 180.2h0.9v0.9h-0.9zM301.7 188.6h0.9v0.9h-0.9zM290.3 177.5h0.9v0.9h-0.9zM297.1 187.2h0.9v0.9h-0.9zM284.5 181.8h0.9v0.9h-0.9zM287.4 189.2h0.9v0.9h-0.9zM299.9 177.2h0.9v0.9h-0.9zM291.4 183.5h0.9v0.9h-0.9zM292.0 183.6h0.9v0.9h-0.9zM300.0 185.4h0.9v0.9h-0.9zM292.7 189.9h0.9v0.9h-0.9zM304.4 183.9h0.9v0.9h-0.9zM295.3 180.8h0.9v0.9h-0.9zM283.6 180.4h0.9v0.9h-0.9zM296.8 182.3h0.9v0.9h-0.9zM280.5 185.2h0.9v0.9h-0.9zM279.8 183.9h0.9v0.9h-0.9zM302.9 184.5h0.9v0.9h-0.9zM296.4 187.6h0.9v0.9h-0.9zM296.0 183.6h0.9v0.9h-0.9zM304.3 185.0h0.9v0.9h-0.9zM314.3 181.7h0.9v0.9h-0.9zM292.8 182.1h0.9v0.9h-0.9zM297.9 181.1h0.9v0.9h-0.9zM313.5 189.6h0.9v0.9h-0.9zM279.7 181.2h0.9v0.9h-0.9zM302.5 190.3h0.9v0.9h-0.9zM300.1 181.0h0.9v0.9h-0.9zM303.7 179.1h0.9v0.9h-0.9zM297.3 178.7h0.9v0.9h-0.9zM308.6 189.1h0.9v0.9h-0.9zM315.7 185.7h0.9v0.9h-0.9zM295.5 181.6h0.9v0.9h-0.9zM306.7 180.7h0.9v0.9h-0.9zM302.8 183.4h0.9v0.9h-0.9zM302.9 186.1h0.9v0.9h-0.9zM289.3 180.8h0.9v0.9h-0.9zM280.8 177.3h0.9v0.9h-0.9zM291.1 187.7h0.9v0.9h-0.9zM292.6 184.5h0.9v0.9h-0.9zM294.3 177.7h0.9v0.9h-0.9zM301.7 193.5h0.9v0.9h-0.9zM301.9 190.4h0.9v0.9h-0.9zM301.8 189.2h0.9v0.9h-0.9zM314.9 179.3h0.9v0.9h-0.9zM290.4 176.2h0.9v0.9h-0.9zM296.7 182.3h0.9v0.9h-0.9zM289.8 185.0h0.9v0.9h-0.9zM313.2 192.9h0.9v0.9h-0.9zM312.5 187.1h0.9v0.9h-0.9zM300.5 191.3h0.9v0.9h-0.9zM305.4 189.9h0.9v0.9h-0.9zM293.7 181.6h0.9v0.9h-0.9zM290.7 188.9h0.9v0.9h-0.9zM288.9 183.7h0.9v0.9h-0.9zM299.0 184.0h0.9v0.9h-0.9zM294.0 185.6h0.9v0.9h-0.9zM290.1 183.6h0.9v0.9h-0.9zM308.3 183.4h0.9v0.9h-0.9zM307.0 191.4h0.9v0.9h-0.9zM312.8 182.7h0.9v0.9h-0.9zM311.9 191.2h0.9v0.9h-0.9zM309.7 190.6h0.9v0.9h-0.9zM295.4 188.2h0.9v0.9h-0.9zM298.3 182.2h0.9v0.9h-0.9zM291.5 181.3h0.9v0.9h-0.9zM295.4 176.6h0.9v0.9h-0.9zM299.7 178.3h0.9v0.9h-0.9zM302.3 191.4h0.9v0.9h-0.9zM307.6 193.2h0.9v0.9h-0.9zM310.7 197.1h0.9v0.9h-0.9zM296.0 180.2h0.9v0.9h-0.9zM295.3 179.4h0.9v0.9h-0.9zM308.7 175.4h0.9v0.9h-0.9zM296.9 188.5h0.9v0.9h-0.9zM302.2 189.0h0.9v0.9h-0.9zM287.3 180.6h0.9v0.9h-0.9zM295.5 186.2h0.9v0.9h-0.9zM302.0 191.8h0.9v0.9h-0.9zM285.7 183.8h0.9v0.9h-0.9zM316.8 193.3h0.9v0.9h-0.9zM299.0 188.5h0.9v0.9h-0.9zM294.8 190.0h0.9v0.9h-0.9zM292.0 187.2h0.9v0.9h-0.9zM299.0 181.1h0.9v0.9h-0.9zM298.6 184.2h0.9v0.9h-0.9zM290.9 184.0h0.9v0.9h-0.9zM289.1 188.1h0.9v0.9h-0.9zM301.4 189.6h0.9v0.9h-0.9zM302.9 186.5h0.9v0.9h-0.9zM284.7 181.0h0.9v0.9h-0.9zM297.1 182.0h0.9v0.9h-0.9zM296.2 182.5h0.9v0.9h-0.9zM292.7 179.6h0.9v0.9h-0.9zM292.5 178.6h0.9v0.9h-0.9zM305.9 186.9h0.9v0.9h-0.9zM301.2 188.6h0.9v0.9h-0.9zM293.6 188.6h0.9v0.9h-0.9zM281.2 179.0h0.9v0.9h-0.9zM297.1 191.9h0.9v0.9h-0.9zM306.8 189.6h0.9v0.9h-0.9zM303.6 182.9h0.9v0.9h-0.9zM295.5 181.2h0.9v0.9h-0.9zM297.6 178.9h0.9v0.9h-0.9zM294.1 181.6h0.9v0.9h-0.9zM300.9 182.2h0.9v0.9h-0.9zM300.0 186.9h0.9v0.9h-0.9zM301.3 188.5h0.9v0.9h-0.9zM288.8 183.4h0.9v0.9h-0.9zM295.5 188.8h0.9v0.9h-0.9zM292.9 184.9h0.9v0.9h-0.9zM285.2 181.0h0.9v0.9h-0.9zM290.5 183.0h0.9v0.9h-0.9zM291.3 183.1h0.9v0.9h-0.9zM298.7 180.0h0.9v0.9h-0.9zM303.3 182.6h0.9v0.9h-0.9zM314.8 192.1h0.9v0.9h-0.9zM302.5 185.6h0.9v0.9h-0.9zM308.5 187.5h0.9v0.9h-0.9zM282.6 185.0h0.9v0.9h-0.9zM299.1 173.8h0.9v0.9h-0.9zM281.5 187.7h0.9v0.9h-0.9zM299.7 181.5h0.9v0.9h-0.9zM281.1 177.0h0.9v0.9h-0.9zM310.2 176.2h0.9v0.9h-0.9zM301.3 195.6h0.9v0.9h-0.9zM297.9 180.2h0.9v0.9h-0.9zM301.3 187.7h0.9v0.9h-0.9zM300.0 183.9h0.9v0.9h-0.9zM283.0 184.3h0.9v0.9h-0.9zM303.2 187.0h0.9v0.9h-0.9zM301.1 185.5h0.9v0.9h-0.9zM304.4 200.8h0.9v0.9h-0.9zM291.8 184.6h0.9v0.9h-0.9zM286.6 174.5h0.9v0.9h-0.9zM296.8 190.4h0.9v0.9h-0.9zM288.3 180.7h0.9v0.9h-0.9zM292.0 177.0h0.9v0.9h-0.9zM284.2 182.5h0.9v0.9h-0.9zM292.6 182.5h0.9v0.9h-0.9zM288.3 188.9h0.9v0.9h-0.9zM316.4 183.7h0.9v0.9h-0.9zM283.3 187.6h0.9v0.9h-0.9zM309.2 195.2h0.9v0.9h-0.9zM289.0 182.5h0.9v0.9h-0.9zM279.5 183.2h0.9v0.9h-0.9zM285.1 174.3h0.9v0.9h-0.9zM303.1 187.1h0.9v0.9h-0.9zM278.7 177.6h0.9v0.9h-0.9zM318.3 176.7h0.9v0.9h-0.9zM292.2 192.3h0.9v0.9h-0.9zM312.2 187.3h0.9v0.9h-0.9zM289.8 184.7h0.9v0.9h-0.9zM290.9 184.7h0.9v0.9h-0.9zM305.9 186.0h0.9v0.9h-0.9zM306.9 191.5h0.9v0.9h-0.9zM289.0 181.7h0.9v0.9h-0.9zM287.8 184.3h0.9v0.9h-0.9zM280.9 177.0h0.9v0.9h-0.9zM276.9 183.0h0.9v0.9h-0.9zM288.3 188.4h0.9v0.9h-0.9zM303.3 187.2h0.9v0.9h-0.9zM289.5 175.7h0.9v0.9h-0.9zM286.9 182.6h0.9v0.9h-0.9zM295.7 183.0h0.9v0.9h-0.9zM296.6 190.5h0.9v0.9h-0.9zM307.0 180.2h0.9v0.9h-0.9zM302.5 181.0h0.9v0.9h-0.9zM298.6 185.3h0.9v0.9h-0.9zM304.7 188.9h0.9v0.9h-0.9zM286.1 181.8h0.9v0.9h-0.9zM300.2 183.7h0.9v0.9h-0.9zM310.4 179.9h0.9v0.9h-0.9zM301.2 185.6h0.9v0.9h-0.9zM292.2 182.8h0.9v0.9h-0.9zM294.1 184.9h0.9v0.9h-0.9zM291.4 181.6h0.9v0.9h-0.9zM318.9 185.5h0.9v0.9h-0.9zM301.4 189.6h0.9v0.9h-0.9zM288.6 186.3h0.9v0.9h-0.9zM290.9 171.7h0.9v0.9h-0.9zM295.4 187.0h0.9v0.9h-0.9zM312.2 189.5h0.9v0.9h-0.9zM305.9 188.3h0.9v0.9h-0.9zM296.5 188.7h0.9v0.9h-0.9zM293.1 184.7h0.9v0.9h-0.9zM290.1 181.7h0.9v0.9h-0.9zM299.8 175.9h0.9v0.9h-0.9zM290.7 178.6h0.9v0.9h-0.9zM295.7 192.6h0.9v0.9h-0.9zM288.2 181.8h0.9v0.9h-0.9zM293.4 180.0h0.9v0.9h-0.9zM289.6 187.1h0.9v0.9h-0.9zM294.3 180.2h0.9v0.9h-0.9zM285.7 178.3h0.9v0.9h-0.9zM304.2 180.8h0.9v0.9h-0.9zM278.9 176.8h0.9v0.9h-0.9zM296.6 185.6h0.9v0.9h-0.9zM296.0 187.5h0.9v0.9h-0.9zM284.7 177.5h0.9v0.9h-0.9zM293.0 183.5h0.9v0.9h-0.9zM277.5 180.0h0.9v0.9h-0.9zM281.6 185.6h0.9v0.9h-0.9zM298.2 191.7h0.9v0.9h-0.9zM313.4 188.7h0.9v0.9h-0.9zM293.3 178.4h0.9v0.9h-0.9zM290.3 187.4h0.9v0.9h-0.9zM299.1 184.3h0.9v0.9h-0.9zM283.6 180.4h0.9v0.9h-0.9zM311.5 184.9h0.9v0.9h-0.9zM307.4 174.6h0.9v0.9h-0.9zM308.4 181.0h0.9v0.9h-0.9zM283.4 179.9h0.9v0.9h-0.9zM288.6 189.7h0.9v0.9h-0.9zM293.2 182.1h0.9v0.9h-0.9zM289.7 186.1h0.9v0.9h-0.9zM306.5 189.3h0.9v0.9h-0.9zM282.3 180.3h0.9v0.9h-0.9zM300.5 175.3h0.9v0.9h-0.9zM294.7 187.6h0.9v0.9h-0.9zM309.0 187.9h0.9v0.9h-0.9zM303.3 188.7h0.9v0.9h-0.9zM299.0 175.5h0.9v0.9h-0.9zM312.3 189.4h0.9v0.9h-0.9zM295.1 179.8h0.9v0.9h-0.9zM316.6 188.5h0.9v0.9h-0.9zM304.0 183.2h0.9v0.9h-0.9zM298.1 184.0h0.9v0.9h-0.9zM305.5 176.6h0.9v0.9h-0.9zM311.8 186.1h0.9v0.9h-0.9zM302.5 189.2h0.9v0.9h-0.9zM291.2 186.5h0.9v0.9h-0.9zM285.6 183.0h0.9v0.9h-0.9zM288.8 187.2h0.9v0.9h-0.9zM308.9 180.2h0.9v0.9h-0.9zM298.6 180.7h0.9v0.9h-0.9zM283.3 181.2h0.9v0.9h-0.9zM304.9 190.2h0.9v0.9h-0.9zM291.0 181.6h0.9v0.9h-0.9zM308.8 185.5h0.9v0.9h-0.9zM311.9 194.8h0.9v0.9h-0.9zM300.8 180.8h0.9v0.9h-0.9zM293.1 186.8h0.9v0.9h-0.9zM293.9 183.7h0.9v0.9h-0.9zM299.9 177.2h0.9v0.9h-0.9zM292.0 181.2h0.9v0.9h-0.9zM288.1 183.5h0.9v0.9h-0.9zM292.4 181.0h0.9v0.9h-0.9zM308.6 192.3h0.9v0.9h-0.9zM293.9 180.8h0.9v0.9h-0.9zM282.0 173.1h0.9v0.9h-0.9zM309.7 185.9h0.9v0.9h-0.9zM288.3 176.2h0.9v0.9h-0.9zM306.7 183.9h0.9v0.9h-0.9zM301.2 188.7h0.9v0.9h-0.9zM288.5 176.0h0.9v0.9h-0.9zM294.7 185.7h0.9v0.9h-0.9zM293.7 182.7h0.9v0.9h-0.9zM299.3 179.8h0.9v0.9h-0.9zM302.0 188.9h0.9v0.9h-0.9zM285.8 178.2h0.9v0.9h-0.9zM292.2 180.0h0.9v0.9h-0.9zM293.3 188.0h0.9v0.9h-0.9zM283.4 183.3h0.9v0.9h-0.9zM292.1 179.7h0.9v0.9h-0.9zM283.2 172.1h0.9v0.9h-0.9zM296.4 190.1h0.9v0.9h-0.9zM287.7 185.4h0.9v0.9h-0.9zM284.8 183.9h0.9v0.9h-0.9zM293.2 181.4h0.9v0.9h-0.9zM283.0 179.1h0.9v0.9h-0.9zM291.8 188.9h0.9v0.9h-0.9zM301.5 186.4h0.9v0.9h-0.9zM290.1 183.7h0.9v0.9h-0.9zM302.7 190.7h0.9v0.9h-0.9zM304.0 193.3h0.9v0.9h-0.9zM293.9 179.1h0.9v0.9h-0.9zM307.3 193.6h0.9v0.9h-0.9zM304.0 185.0h0.9v0.9h-0.9zM297.2 182.4h0.9v0.9h-0.9zM292.9 183.2h0.9v0.9h-0.9zM299.6 179.0h0.9v0.9h-0.9zM300.3 185.1h0.9v0.9h-0.9zM294.1 184.7h0.9v0.9h-0.9zM292.6 184.4h0.9v0.9h-0.9zM309.0 183.8h0.9v0.9h-0.9zM303.3 182.2h0.9v0.9h-0.9zM293.9 184.4h0.9v0.9h-0.9zM290.6 187.5h0.9v0.9h-0.9zM282.6 180.7h0.9v0.9h-0.9zM296.0 184.1h0.9v0.9h-0.9zM294.4 178.9h0.9v0.9h-0.9zM296.2 189.9h0.9v0.9h-0.9zM301.4 183.8h0.9v0.9h-0.9zM284.7 177.7h0.9v0.9h-0.9zM302.8 182.2h0.9v0.9h-0.9zM293.1 193.6h0.9v0.9h-0.9zM274.5 184.4h0.9v0.9h-0.9zM274.9 174.1h0.9v0.9h-0.9zM319.6 192.4h0.9v0.9h-0.9zM300.9 188.1h0.9v0.9h-0.9zM303.9 182.2h0.9v0.9h-0.9zM283.6 177.9h0.9v0.9h-0.9zM298.8 186.1h0.9v0.9h-0.9zM305.0 184.7h0.9v0.9h-0.9zM302.3 184.4h0.9v0.9h-0.9zM285.7 179.5h0.9v0.9h-0.9zM298.7 183.5h0.9v0.9h-0.9zM290.8 182.5h0.9v0.9h-0.9zM308.0 182.1h0.9v0.9h-0.9zM273.4 180.1h0.9v0.9h-0.9zM274.6 186.9h0.9v0.9h-0.9zM289.6 182.6h0.9v0.9h-0.9zM293.3 183.7h0.9v0.9h-0.9zM297.9 189.0h0.9v0.9h-0.9zM285.6 179.8h0.9v0.9h-0.9zM291.4 181.5h0.9v0.9h-0.9zM300.7 175.1h0.9v0.9h-0.9zM276.0 180.2h0.9v0.9h-0.9zM299.0 186.4h0.9v0.9h-0.9zM304.0 191.9h0.9v0.9h-0.9zM286.9 180.4h0.9v0.9h-0.9zM297.7 186.3h0.9v0.9h-0.9zM299.7 185.4h0.9v0.9h-0.9zM286.5 192.5h0.9v0.9h-0.9zM295.3 185.3h0.9v0.9h-0.9zM286.7 183.5h0.9v0.9h-0.9zM292.3 187.9h0.9v0.9h-0.9zM303.8 182.0h0.9v0.9h-0.9zM296.2 183.9h0.9v0.9h-0.9zM298.4 190.4h0.9v0.9h-0.9zM288.8 194.9h0.9v0.9h-0.9zM288.0 175.8h0.9v0.9h-0.9zM302.2 178.7h0.9v0.9h-0.9zM307.4 187.1h0.9v0.9h-0.9zM292.4 186.5h0.9v0.9h-0.9zM297.0 180.2h0.9v0.9h-0.9zM292.0 191.9h0.9v0.9h-0.9zM297.5 185.3h0.9v0.9h-0.9zM286.7 191.7h0.9v0.9h-0.9zM301.6 183.1h0.9v0.9h-0.9zM295.8 181.0h0.9v0.9h-0.9zM307.8 189.8h0.9v0.9h-0.9zM289.7 180.9h0.9v0.9h-0.9zM291.8 183.7h0.9v0.9h-0.9zM316.0 185.5h0.9v0.9h-0.9zM299.3 182.5h0.9v0.9h-0.9zM294.0 185.2h0.9v0.9h-0.9zM305.9 179.9h0.9v0.9h-0.9zM289.9 181.6h0.9v0.9h-0.9zM287.2 189.2h0.9v0.9h-0.9zM302.5 189.8h0.9v0.9h-0.9zM299.9 179.0h0.9v0.9h-0.9zM304.4 184.5h0.9v0.9h-0.9zM290.0 178.8h0.9v0.9h-0.9zM285.3 179.7h0.9v0.9h-0.9zM297.4 189.3h0.9v0.9h-0.9zM289.9 186.1h0.9v0.9h-0.9zM299.1 187.7h0.9v0.9h-0.9zM296.0 177.6h0.9v0.9h-0.9zM306.4 188.5h0.9v0.9h-0.9zM285.1 182.1h0.9v0.9h-0.9zM294.0 194.0h0.9v0.9h-0.9zM310.2 186.6h0.9v0.9h-0.9zM294.1 186.9h0.9v0.9h-0.9zM298.5 187.2h0.9v0.9h-0.9zM293.8 178.6h0.9v0.9h-0.9zM278.2 174.5h0.9v0.9h-0.9zM281.1 181.3h0.9v0.9h-0.9zM301.7 192.5h0.9v0.9h-0.9zM298.2 194.1h0.9v0.9h-0.9zM311.2 185.6h0.9v0.9h-0.9zM290.9 184.1h0.9v0.9h-0.9zM291.5 181.0h0.9v0.9h-0.9zM296.2 186.2h0.9v0.9h-0.9zM278.1 181.3h0.9v0.9h-0.9zM296.2 187.4h0.9v0.9h-0.9zM287.3 184.9h0.9v0.9h-0.9zM286.9 178.0h0.9v0.9h-0.9zM288.2 183.2h0.9v0.9h-0.9zM293.1 188.9h0.9v0.9h-0.9zM300.3 183.4h0.9v0.9h-0.9zM305.3 193.0h0.9v0.9h-0.9zM297.2 192.6h0.9v0.9h-0.9zM299.1 186.3h0.9v0.9h-0.9zM287.3 187.3h0.9v0.9h-0.9zM305.6 186.7h0.9v0.9h-0.9zM305.7 195.1h0.9v0.9h-0.9zM312.3 182.4h0.9v0.9h-0.9zM294.1 189.8h0.9v0.9h-0.9zM304.6 190.5h0.9v0.9h-0.9zM282.3 185.3h0.9v0.9h-0.9zM301.6 182.3h0.9v0.9h-0.9zM310.9 190.1h0.9v0.9h-0.9zM306.3 193.3h0.9v0.9h-0.9zM294.4 185.5h0.9v0.9h-0.9zM296.7 189.3h0.9v0.9h-0.9zM305.6 180.9h0.9v0.9h-0.9zM290.2 178.5h0.9v0.9h-0.9zM299.0 179.3h0.9v0.9h-0.9zM288.1 189.1h0.9v0.9h-0.9zM289.2 185.7h0.9v0.9h-0.9zM277.5 184.7h0.9v0.9h-0.9zM284.3 188.8h0.9v0.9h-0.9zM299.1 187.3h0.9v0.9h-0.9zM288.8 184.8h0.9v0.9h-0.9zM292.6 188.0h0.9v0.9h-0.9zM293.1 182.5h0.9v0.9h-0.9zM289.9 181.6h0.9v0.9h-0.9zM304.4 184.3h0.9v0.9h-0.9zM300.1 172.5h0.9v0.9h-0.9zM305.4 179.4h0.9v0.9h-0.9zM279.3 181.9h0.9v0.9h-0.9zM279.4 188.9h0.9v0.9h-0.9zM296.0 183.4h0.9v0.9h-0.9zM303.2 184.3h0.9v0.9h-0.9zM297.5 185.3h0.9v0.9h-0.9zM315.1 190.6h0.9v0.9h-0.9zM292.7 184.4h0.9v0.9h-0.9zM281.1 187.8h0.9v0.9h-0.9zM286.3 180.3h0.9v0.9h-0.9zM295.7 185.7h0.9v0.9h-0.9zM289.6 179.8h0.9v0.9h-0.9zM290.3 171.4h0.9v0.9h-0.9zM291.1 186.1h0.9v0.9h-0.9zM305.9 182.2h0.9v0.9h-0.9zM287.4 186.9h0.9v0.9h-0.9zM293.0 189.4h0.9v0.9h-0.9zM289.4 184.8h0.9v0.9h-0.9zM295.7 184.8h0.9v0.9h-0.9zM303.7 185.8h0.9v0.9h-0.9zM295.7 183.4h0.9v0.9h-0.9zM310.7 189.1h0.9v0.9h-0.9zM296.1 177.5h0.9v0.9h-0.9zM301.7 182.1h0.9v0.9h-0.9zM282.6 181.8h0.9v0.9h-0.9zM289.7 182.9h0.9v0.9h-0.9zM298.6 183.2h0.9v0.9h-0.9zM290.8 182.4h0.9v0.9h-0.9zM319.7 183.9h0.9v0.9h-0.9zM287.1 179.1h0.9v0.9h-0.9zM286.4 181.1h0.9v0.9h-0.9zM289.3 184.4h0.9v0.9h-0.9zM297.8 188.5h0.9v0.9h-0.9zM297.3 185.5h0.9v0.9h-0.9zM299.9 172.5h0.9v0.9h-0.9zM297.4 182.8h0.9v0.9h-0.9zM289.9 183.3h0.9v0.9h-0.9zM290.9 186.3h0.9v0.9h-0.9zM301.0 178.8h0.9v0.9h-0.9zM304.0 178.2h0.9v0.9h-0.9zM301.4 193.6h0.9v0.9h-0.9zM308.2 181.1h0.9v0.9h-0.9zM310.7 194.7h0.9v0.9h-0.9zM299.7 185.9h0.9v0.9h-0.9zM314.0 189.0h0.9v0.9h-0.9zM283.8 181.9h0.9v0.9h-0.9zM297.7 187.9h0.9v0.9h-0.9zM314.6 190.6h0.9v0.9h-0.9zM307.6 180.0h0.9v0.9h-0.9zM289.6 184.0h0.9v0.9h-0.9zM301.0 195.4h0.9v0.9h-0.9zM311.2 181.4h0.9v0.9h-0.9zM305.3 182.5h0.9v0.9h-0.9zM293.8 184.3h0.9v0.9h-0.9zM297.1 185.6h0.9v0.9h-0.9zM292.7 187.6h0.9v0.9h-0.9zM294.5 183.3h0.9v0.9h-0.9zM291.7 184.0h0.9v0.9h-0.9zM289.8 179.2h0.9v0.9h-0.9zM304.7 188.0h0.9v0.9h-0.9zM300.9 185.8h0.9v0.9h-0.9zM289.4 177.2h0.9v0.9h-0.9zM306.9 186.2h0.9v0.9h-0.9zM302.3 185.8h0.9v0.9h-0.9zM305.2 181.0h0.9v0.9h-0.9zM306.2 176.4h0.9v0.9h-0.9zM299.7 190.9h0.9v0.9h-0.9zM300.7 186.4h0.9v0.9h-0.9zM290.9 187.9h0.9v0.9h-0.9zM298.3 188.1h0.9v0.9h-0.9zM303.1 184.6h0.9v0.9h-0.9zM292.6 187.2h0.9v0.9h-0.9zM303.4 186.6h0.9v0.9h-0.9zM302.3 182.8h0.9v0.9h-0.9zM298.2 188.2h0.9v0.9h-0.9zM300.0 174.0h0.9v0.9h-0.9zM300.6 183.0h0.9v0.9h-0.9zM295.3 185.1h0.9v0.9h-0.9zM311.1 177.8h0.9v0.9h-0.9zM289.5 191.7h0.9v0.9h-0.9zM292.3 191.8h0.9v0.9h-0.9zM310.3 182.9h0.9v0.9h-0.9zM295.5 188.2h0.9v0.9h-0.9zM312.3 187.0h0.9v0.9h-0.9zM300.1 183.6h0.9v0.9h-0.9zM316.8 180.1h0.9v0.9h-0.9zM300.0 189.1h0.9v0.9h-0.9zM308.7 187.2h0.9v0.9h-0.9zM310.3 185.8h0.9v0.9h-0.9zM328.6 186.9h0.9v0.9h-0.9zM303.0 199.3h0.9v0.9h-0.9zM303.3 187.0h0.9v0.9h-0.9zM301.7 176.6h0.9v0.9h-0.9zM306.1 183.7h0.9v0.9h-0.9zM299.7 178.2h0.9v0.9h-0.9zM302.1 186.1h0.9v0.9h-0.9zM295.9 193.7h0.9v0.9h-0.9zM271.3 184.2h0.9v0.9h-0.9zM275.4 174.9h0.9v0.9h-0.9zM323.5 193.1h0.9v0.9h-0.9zM310.8 176.6h0.9v0.9h-0.9zM285.2 191.1h0.9v0.9h-0.9zM306.7 196.7h0.9v0.9h-0.9zM305.2 191.9h0.9v0.9h-0.9zM308.8 189.2h0.9v0.9h-0.9zM284.1 193.4h0.9v0.9h-0.9zM296.9 187.4h0.9v0.9h-0.9zM300.1 193.4h0.9v0.9h-0.9zM298.9 179.4h0.9v0.9h-0.9zM304.3 196.9h0.9v0.9h-0.9zM297.0 198.2h0.9v0.9h-0.9zM301.0 191.3h0.9v0.9h-0.9zM327.0 199.9h0.9v0.9h-0.9zM304.6 195.1h0.9v0.9h-0.9zM299.1 182.6h0.9v0.9h-0.9zM308.8 188.5h0.9v0.9h-0.9zM299.5 185.1h0.9v0.9h-0.9zM307.7 189.2h0.9v0.9h-0.9zM301.8 184.0h0.9v0.9h-0.9zM295.5 178.7h0.9v0.9h-0.9zM306.9 188.1h0.9v0.9h-0.9zM294.9 187.9h0.9v0.9h-0.9zM308.8 193.3h0.9v0.9h-0.9zM300.1 194.1h0.9v0.9h-0.9zM314.4 176.5h0.9v0.9h-0.9zM288.2 192.0h0.9v0.9h-0.9zM305.5 193.7h0.9v0.9h-0.9zM317.6 183.0h0.9v0.9h-0.9zM306.1 197.2h0.9v0.9h-0.9zM289.2 198.8h0.9v0.9h-0.9zM275.9 183.5h0.9v0.9h-0.9zM304.4 191.7h0.9v0.9h-0.9zM298.8 194.2h0.9v0.9h-0.9zM303.2 184.0h0.9v0.9h-0.9zM291.8 173.3h0.9v0.9h-0.9zM297.2 191.7h0.9v0.9h-0.9zM283.6 182.8h0.9v0.9h-0.9zM301.5 188.9h0.9v0.9h-0.9zM321.8 179.4h0.9v0.9h-0.9zM281.5 187.2h0.9v0.9h-0.9zM307.0 196.7h0.9v0.9h-0.9zM291.5 192.0h0.9v0.9h-0.9zM320.8 190.4h0.9v0.9h-0.9zM311.9 183.6h0.9v0.9h-0.9zM314.2 188.6h0.9v0.9h-0.9zM297.3 187.4h0.9v0.9h-0.9zM283.1 175.6h0.9v0.9h-0.9zM305.6 189.2h0.9v0.9h-0.9zM300.2 177.4h0.9v0.9h-0.9zM305.1 186.2h0.9v0.9h-0.9zM283.1 194.3h0.9v0.9h-0.9zM316.3 192.1h0.9v0.9h-0.9zM295.1 189.0h0.9v0.9h-0.9zM323.9 184.0h0.9v0.9h-0.9zM317.4 190.6h0.9v0.9h-0.9zM295.0 188.6h0.9v0.9h-0.9zM311.3 189.3h0.9v0.9h-0.9zM305.6 193.8h0.9v0.9h-0.9zM312.4 187.1h0.9v0.9h-0.9zM304.6 173.5h0.9v0.9h-0.9zM286.0 180.6h0.9v0.9h-0.9zM296.1 185.6h0.9v0.9h-0.9zM288.1 190.8h0.9v0.9h-0.9zM315.8 201.0h0.9v0.9h-0.9zM304.2 192.5h0.9v0.9h-0.9zM313.0 201.9h0.9v0.9h-0.9zM296.6 193.3h0.9v0.9h-0.9zM285.4 179.0h0.9v0.9h-0.9zM286.2 191.5h0.9v0.9h-0.9zM300.1 188.9h0.9v0.9h-0.9zM290.6 186.7h0.9v0.9h-0.9zM327.0 179.8h0.9v0.9h-0.9zM286.4 193.7h0.9v0.9h-0.9zM289.3 187.5h0.9v0.9h-0.9zM304.2 177.2h0.9v0.9h-0.9zM297.3 187.6h0.9v0.9h-0.9zM307.1 193.6h0.9v0.9h-0.9zM302.2 188.3h0.9v0.9h-0.9zM300.9 189.1h0.9v0.9h-0.9zM312.5 184.4h0.9v0.9h-0.9zM287.7 190.9h0.9v0.9h-0.9zM311.8 183.2h0.9v0.9h-0.9zM300.3 181.0h0.9v0.9h-0.9zM309.6 189.2h0.9v0.9h-0.9zM306.5 192.8h0.9v0.9h-0.9zM306.0 197.6h0.9v0.9h-0.9zM312.3 187.8h0.9v0.9h-0.9zM292.0 190.5h0.9v0.9h-0.9zM280.9 181.5h0.9v0.9h-0.9zM315.2 196.3h0.9v0.9h-0.9zM300.4 194.7h0.9v0.9h-0.9zM319.1 181.6h0.9v0.9h-0.9zM316.2 191.8h0.9v0.9h-0.9zM325.9 192.2h0.9v0.9h-0.9zM296.3 183.8h0.9v0.9h-0.9zM297.5 184.5h0.9v0.9h-0.9zM278.5 187.3h0.9v0.9h-0.9zM292.5 196.5h0.9v0.9h-0.9zM313.0 186.0h0.9v0.9h-0.9zM299.1 191.6h0.9v0.9h-0.9zM318.7 198.5h0.9v0.9h-0.9zM314.0 190.2h0.9v0.9h-0.9zM312.4 181.6h0.9v0.9h-0.9zM309.7 189.1h0.9v0.9h-0.9zM298.7 187.3h0.9v0.9h-0.9zM292.6 184.8h0.9v0.9h-0.9zM320.7 186.9h0.9v0.9h-0.9zM284.6 190.6h0.9v0.9h-0.9zM296.7 183.9h0.9v0.9h-0.9zM320.4 190.3h0.9v0.9h-0.9zM309.9 191.2h0.9v0.9h-0.9zM324.9 196.5h0.9v0.9h-0.9zM283.0 199.0h0.9v0.9h-0.9zM295.8 185.5h0.9v0.9h-0.9zM312.9 189.3h0.9v0.9h-0.9zM297.5 185.5h0.9v0.9h-0.9zM298.3 196.5h0.9v0.9h-0.9zM306.9 198.9h0.9v0.9h-0.9zM327.4 197.2h0.9v0.9h-0.9zM291.5 188.5h0.9v0.9h-0.9zM308.4 180.3h0.9v0.9h-0.9zM301.3 180.8h0.9v0.9h-0.9zM318.3 177.8h0.9v0.9h-0.9zM297.7 190.2h0.9v0.9h-0.9zM305.2 182.4h0.9v0.9h-0.9zM312.1 189.4h0.9v0.9h-0.9zM322.1 191.9h0.9v0.9h-0.9zM313.6 178.3h0.9v0.9h-0.9zM305.1 189.7h0.9v0.9h-0.9zM289.1 171.2h0.9v0.9h-0.9zM312.1 199.0h0.9v0.9h-0.9zM294.4 194.1h0.9v0.9h-0.9zM311.1 185.6h0.9v0.9h-0.9zM310.9 192.7h0.9v0.9h-0.9zM298.2 178.1h0.9v0.9h-0.9zM306.0 188.1h0.9v0.9h-0.9zM306.8 189.1h0.9v0.9h-0.9zM278.8 183.1h0.9v0.9h-0.9zM304.2 186.2h0.9v0.9h-0.9zM305.7 191.2h0.9v0.9h-0.9zM301.0 185.4h0.9v0.9h-0.9zM324.4 193.3h0.9v0.9h-0.9zM306.8 193.0h0.9v0.9h-0.9zM305.5 175.3h0.9v0.9h-0.9zM296.9 190.1h0.9v0.9h-0.9zM309.3 190.0h0.9v0.9h-0.9zM287.8 184.9h0.9v0.9h-0.9zM307.9 190.0h0.9v0.9h-0.9zM309.0 188.4h0.9v0.9h-0.9zM273.6 192.2h0.9v0.9h-0.9zM293.4 197.2h0.9v0.9h-0.9zM297.0 186.0h0.9v0.9h-0.9zM316.7 187.6h0.9v0.9h-0.9zM280.5 189.4h0.9v0.9h-0.9zM308.4 192.6h0.9v0.9h-0.9zM300.3 190.9h0.9v0.9h-0.9zM290.7 187.3h0.9v0.9h-0.9zM309.9 198.0h0.9v0.9h-0.9zM323.3 188.9h0.9v0.9h-0.9zM309.5 189.1h0.9v0.9h-0.9zM289.7 190.1h0.9v0.9h-0.9zM315.0 196.3h0.9v0.9h-0.9zM277.8 184.9h0.9v0.9h-0.9zM301.1 189.2h0.9v0.9h-0.9zM283.6 201.1h0.9v0.9h-0.9zM282.3 179.7h0.9v0.9h-0.9zM325.2 193.5h0.9v0.9h-0.9zM292.4 182.7h0.9v0.9h-0.9zM311.8 185.3h0.9v0.9h-0.9zM312.5 193.7h0.9v0.9h-0.9zM308.2 195.6h0.9v0.9h-0.9zM294.5 177.6h0.9v0.9h-0.9zM280.7 186.3h0.9v0.9h-0.9zM291.9 199.0h0.9v0.9h-0.9zM290.2 199.0h0.9v0.9h-0.9zM300.7 188.8h0.9v0.9h-0.9zM277.3 185.5h0.9v0.9h-0.9zM321.7 180.4h0.9v0.9h-0.9zM319.6 196.6h0.9v0.9h-0.9zM314.5 182.9h0.9v0.9h-0.9zM323.4 182.9h0.9v0.9h-0.9zM323.5 199.6h0.9v0.9h-0.9zM279.3 197.1h0.9v0.9h-0.9zM326.4 190.8h0.9v0.9h-0.9zM281.7 184.9h0.9v0.9h-0.9zM298.5 194.5h0.9v0.9h-0.9zM289.6 180.7h0.9v0.9h-0.9zM305.4 191.5h0.9v0.9h-0.9zM278.9 189.4h0.9v0.9h-0.9zM295.2 184.7h0.9v0.9h-0.9zM310.6 194.7h0.9v0.9h-0.9zM305.9 189.3h0.9v0.9h-0.9zM307.1 200.1h0.9v0.9h-0.9zM311.2 192.1h0.9v0.9h-0.9zM316.3 179.3h0.9v0.9h-0.9zM316.1 196.1h0.9v0.9h-0.9zM298.7 177.6h0.9v0.9h-0.9zM307.3 188.4h0.9v0.9h-0.9zM290.4 193.9h0.9v0.9h-0.9zM289.5 194.8h0.9v0.9h-0.9zM313.1 194.0h0.9v0.9h-0.9zM287.7 179.3h0.9v0.9h-0.9zM303.4 196.6h0.9v0.9h-0.9zM288.4 188.8h0.9v0.9h-0.9zM314.4 177.8h0.9v0.9h-0.9zM327.8 190.1h0.9v0.9h-0.9zM295.4 189.5h0.9v0.9h-0.9zM300.2 181.7h0.9v0.9h-0.9zM294.2 186.1h0.9v0.9h-0.9zM288.0 194.4h0.9v0.9h-0.9zM311.0 195.0h0.9v0.9h-0.9zM280.5 182.9h0.9v0.9h-0.9zM309.5 188.9h0.9v0.9h-0.9zM277.7 188.7h0.9v0.9h-0.9zM301.3 180.0h0.9v0.9h-0.9zM316.5 194.6h0.9v0.9h-0.9zM298.1 186.0h0.9v0.9h-0.9zM313.4 189.2h0.9v0.9h-0.9zM293.4 179.3h0.9v0.9h-0.9zM297.4 186.0h0.9v0.9h-0.9zM285.7 174.5h0.9v0.9h-0.9zM293.0 194.1h0.9v0.9h-0.9zM329.1 179.7h0.9v0.9h-0.9zM294.8 192.4h0.9v0.9h-0.9zM292.6 191.9h0.9v0.9h-0.9zM297.8 196.6h0.9v0.9h-0.9zM304.3 201.5h0.9v0.9h-0.9zM284.8 195.0h0.9v0.9h-0.9zM297.5 196.6h0.9v0.9h-0.9zM294.9 194.1h0.9v0.9h-0.9zM317.0 192.7h0.9v0.9h-0.9zM288.6 182.5h0.9v0.9h-0.9zM295.7 186.6h0.9v0.9h-0.9zM315.9 181.8h0.9v0.9h-0.9zM300.7 189.0h0.9v0.9h-0.9zM302.8 182.3h0.9v0.9h-0.9zM320.1 190.5h0.9v0.9h-0.9zM292.1 187.1h0.9v0.9h-0.9zM318.3 194.8h0.9v0.9h-0.9zM318.4 194.4h0.9v0.9h-0.9zM296.9 177.8h0.9v0.9h-0.9zM291.0 187.2h0.9v0.9h-0.9zM280.7 184.7h0.9v0.9h-0.9zM291.6 196.2h0.9v0.9h-0.9zM312.5 186.7h0.9v0.9h-0.9zM304.0 200.6h0.9v0.9h-0.9zM312.2 187.8h0.9v0.9h-0.9zM295.3 177.6h0.9v0.9h-0.9zM306.8 195.7h0.9v0.9h-0.9zM301.8 189.1h0.9v0.9h-0.9zM291.9 188.8h0.9v0.9h-0.9zM309.6 180.7h0.9v0.9h-0.9zM312.0 188.2h0.9v0.9h-0.9zM309.6 190.0h0.9v0.9h-0.9zM307.6 191.4h0.9v0.9h-0.9zM313.0 185.0h0.9v0.9h-0.9zM301.8 180.6h0.9v0.9h-0.9zM303.8 197.1h0.9v0.9h-0.9zM299.4 196.0h0.9v0.9h-0.9zM296.8 191.1h0.9v0.9h-0.9zM319.1 193.2h0.9v0.9h-0.9zM308.5 199.5h0.9v0.9h-0.9zM311.3 196.8h0.9v0.9h-0.9zM299.2 183.5h0.9v0.9h-0.9zM313.3 183.0h0.9v0.9h-0.9zM318.6 187.1h0.9v0.9h-0.9zM306.9 195.3h0.9v0.9h-0.9zM288.7 201.3h0.9v0.9h-0.9zM303.1 187.7h0.9v0.9h-0.9zM289.5 175.8h0.9v0.9h-0.9zM279.9 179.7h0.9v0.9h-0.9zM310.3 186.6h0.9v0.9h-0.9zM318.4 184.1h0.9v0.9h-0.9zM283.2 190.3h0.9v0.9h-0.9zM299.6 178.7h0.9v0.9h-0.9zM321.7 193.2h0.9v0.9h-0.9zM284.6 183.6h0.9v0.9h-0.9zM291.0 196.0h0.9v0.9h-0.9zM296.2 184.0h0.9v0.9h-0.9zM306.9 200.8h0.9v0.9h-0.9zM321.1 191.2h0.9v0.9h-0.9zM299.0 184.4h0.9v0.9h-0.9zM315.8 183.1h0.9v0.9h-0.9zM302.3 193.9h0.9v0.9h-0.9zM294.3 171.1h0.9v0.9h-0.9zM295.8 182.4h0.9v0.9h-0.9zM290.2 183.6h0.9v0.9h-0.9zM313.6 179.8h0.9v0.9h-0.9zM287.0 186.4h0.9v0.9h-0.9zM315.0 184.6h0.9v0.9h-0.9zM310.3 197.2h0.9v0.9h-0.9zM293.3 186.5h0.9v0.9h-0.9zM314.0 191.7h0.9v0.9h-0.9zM294.8 187.1h0.9v0.9h-0.9zM299.4 189.1h0.9v0.9h-0.9zM306.4 190.4h0.9v0.9h-0.9zM294.8 188.1h0.9v0.9h-0.9zM306.6 188.0h0.9v0.9h-0.9zM323.9 187.9h0.9v0.9h-0.9zM272.9 194.0h0.9v0.9h-0.9zM296.4 190.7h0.9v0.9h-0.9zM299.2 195.2h0.9v0.9h-0.9zM295.5 192.1h0.9v0.9h-0.9zM323.0 195.4h0.9v0.9h-0.9zM291.7 199.8h0.9v0.9h-0.9zM317.2 190.4h0.9v0.9h-0.9zM283.8 188.5h0.9v0.9h-0.9zM301.5 192.0h0.9v0.9h-0.9zM304.4 200.2h0.9v0.9h-0.9zM304.9 186.4h0.9v0.9h-0.9zM297.2 190.4h0.9v0.9h-0.9zM309.3 180.8h0.9v0.9h-0.9zM289.2 193.9h0.9v0.9h-0.9zM299.6 196.0h0.9v0.9h-0.9zM300.1 183.9h0.9v0.9h-0.9zM308.5 191.4h0.9v0.9h-0.9zM301.3 190.5h0.9v0.9h-0.9zM309.6 193.3h0.9v0.9h-0.9zM312.3 189.4h0.9v0.9h-0.9zM297.3 177.1h0.9v0.9h-0.9zM298.2 195.8h0.9v0.9h-0.9zM305.0 191.3h0.9v0.9h-0.9zM284.9 172.1h0.9v0.9h-0.9zM310.3 184.1h0.9v0.9h-0.9zM294.7 173.7h0.9v0.9h-0.9zM321.7 201.0h0.9v0.9h-0.9zM278.8 182.1h0.9v0.9h-0.9zM324.9 156.9h0.9v0.9h-0.9zM328.1 153.5h0.9v0.9h-0.9zM325.2 157.1h0.9v0.9h-0.9zM320.5 157.2h0.9v0.9h-0.9zM325.5 156.1h0.9v0.9h-0.9zM322.5 154.3h0.9v0.9h-0.9zM322.1 156.2h0.9v0.9h-0.9zM322.5 165.0h0.9v0.9h-0.9zM323.6 160.3h0.9v0.9h-0.9zM323.7 154.5h0.9v0.9h-0.9zM328.2 152.8h0.9v0.9h-0.9zM320.4 162.2h0.9v0.9h-0.9zM317.2 158.0h0.9v0.9h-0.9zM323.1 156.4h0.9v0.9h-0.9zM323.2 154.6h0.9v0.9h-0.9zM324.4 158.1h0.9v0.9h-0.9zM322.8 155.1h0.9v0.9h-0.9zM328.9 153.3h0.9v0.9h-0.9zM323.8 156.2h0.9v0.9h-0.9zM321.6 160.8h0.9v0.9h-0.9zM323.3 148.8h0.9v0.9h-0.9zM328.6 158.6h0.9v0.9h-0.9zM328.2 155.9h0.9v0.9h-0.9zM327.0 159.6h0.9v0.9h-0.9zM327.2 153.9h0.9v0.9h-0.9zM324.4 150.0h0.9v0.9h-0.9zM325.7 156.0h0.9v0.9h-0.9zM328.3 160.9h0.9v0.9h-0.9zM322.0 160.4h0.9v0.9h-0.9zM325.5 149.3h0.9v0.9h-0.9zM323.1 156.4h0.9v0.9h-0.9zM322.2 159.0h0.9v0.9h-0.9zM323.2 159.9h0.9v0.9h-0.9zM324.5 159.8h0.9v0.9h-0.9zM328.9 156.5h0.9v0.9h-0.9zM329.1 163.0h0.9v0.9h-0.9zM328.5 148.0h0.9v0.9h-0.9zM324.2 159.0h0.9v0.9h-0.9zM328.6 151.5h0.9v0.9h-0.9zM327.1 154.6h0.9v0.9h-0.9zM324.8 153.9h0.9v0.9h-0.9zM325.7 159.3h0.9v0.9h-0.9zM320.4 161.4h0.9v0.9h-0.9zM326.2 149.2h0.9v0.9h-0.9zM326.4 154.1h0.9v0.9h-0.9zM322.8 158.4h0.9v0.9h-0.9zM324.7 159.6h0.9v0.9h-0.9zM326.8 151.2h0.9v0.9h-0.9zM325.5 159.1h0.9v0.9h-0.9zM326.4 154.6h0.9v0.9h-0.9zM320.3 158.3h0.9v0.9h-0.9zM321.3 150.4h0.9v0.9h-0.9zM324.3 154.1h0.9v0.9h-0.9zM326.0 160.2h0.9v0.9h-0.9zM322.7 154.0h0.9v0.9h-0.9zM321.0 157.7h0.9v0.9h-0.9zM328.8 157.3h0.9v0.9h-0.9zM318.6 160.3h0.9v0.9h-0.9zM324.7 153.6h0.9v0.9h-0.9zM322.0 155.0h0.9v0.9h-0.9zM326.5 157.0h0.9v0.9h-0.9zM328.1 151.0h0.9v0.9h-0.9zM325.6 152.0h0.9v0.9h-0.9zM328.3 153.9h0.9v0.9h-0.9zM321.5 160.8h0.9v0.9h-0.9zM325.3 147.2h0.9v0.9h-0.9zM321.6 153.7h0.9v0.9h-0.9zM328.0 153.4h0.9v0.9h-0.9zM326.2 155.2h0.9v0.9h-0.9zM327.0 153.2h0.9v0.9h-0.9zM322.7 155.1h0.9v0.9h-0.9zM322.9 161.0h0.9v0.9h-0.9zM324.2 149.0h0.9v0.9h-0.9zM323.9 154.2h0.9v0.9h-0.9zM323.0 153.9h0.9v0.9h-0.9zM323.9 158.3h0.9v0.9h-0.9zM325.1 156.5h0.9v0.9h-0.9zM325.3 159.5h0.9v0.9h-0.9zM325.7 156.0h0.9v0.9h-0.9zM328.9 158.1h0.9v0.9h-0.9zM329.4 150.5h0.9v0.9h-0.9zM321.5 166.7h0.9v0.9h-0.9zM321.3 154.7h0.9v0.9h-0.9zM321.2 158.3h0.9v0.9h-0.9zM325.5 146.8h0.9v0.9h-0.9zM329.0 151.5h0.9v0.9h-0.9zM329.1 156.8h0.9v0.9h-0.9zM325.7 158.7h0.9v0.9h-0.9zM323.2 156.4h0.9v0.9h-0.9zM325.1 155.9h0.9v0.9h-0.9zM327.3 154.9h0.9v0.9h-0.9zM324.3 158.1h0.9v0.9h-0.9zM324.5 158.6h0.9v0.9h-0.9zM323.0 152.2h0.9v0.9h-0.9zM328.1 159.7h0.9v0.9h-0.9zM327.8 155.5h0.9v0.9h-0.9zM325.3 155.0h0.9v0.9h-0.9zM323.1 158.2h0.9v0.9h-0.9zM327.8 149.3h0.9v0.9h-0.9zM325.1 151.6h0.9v0.9h-0.9zM322.4 159.5h0.9v0.9h-0.9zM324.6 157.6h0.9v0.9h-0.9zM324.1 157.0h0.9v0.9h-0.9zM326.9 157.0h0.9v0.9h-0.9zM328.7 154.0h0.9v0.9h-0.9zM323.8 151.3h0.9v0.9h-0.9zM325.4 151.7h0.9v0.9h-0.9zM324.4 155.0h0.9v0.9h-0.9zM325.4 158.5h0.9v0.9h-0.9zM326.6 154.9h0.9v0.9h-0.9zM326.8 150.9h0.9v0.9h-0.9zM325.9 151.8h0.9v0.9h-0.9zM322.7 148.5h0.9v0.9h-0.9zM325.4 153.3h0.9v0.9h-0.9zM324.3 156.9h0.9v0.9h-0.9zM326.0 154.0h0.9v0.9h-0.9zM326.6 152.3h0.9v0.9h-0.9zM323.0 154.8h0.9v0.9h-0.9zM328.9 155.7h0.9v0.9h-0.9zM324.6 157.1h0.9v0.9h-0.9zM327.6 150.5h0.9v0.9h-0.9zM322.4 157.1h0.9v0.9h-0.9zM326.3 159.5h0.9v0.9h-0.9zM324.1 154.9h0.9v0.9h-0.9zM324.8 152.2h0.9v0.9h-0.9zM325.4 159.6h0.9v0.9h-0.9zM328.5 152.6h0.9v0.9h-0.9zM322.0 159.3h0.9v0.9h-0.9zM329.4 148.3h0.9v0.9h-0.9zM327.3 160.4h0.9v0.9h-0.9zM329.0 155.7h0.9v0.9h-0.9zM325.5 153.1h0.9v0.9h-0.9zM326.7 158.9h0.9v0.9h-0.9zM327.9 156.9h0.9v0.9h-0.9zM325.4 154.5h0.9v0.9h-0.9zM328.5 152.1h0.9v0.9h-0.9zM322.6 157.2h0.9v0.9h-0.9zM326.5 144.3h0.9v0.9h-0.9zM323.1 157.6h0.9v0.9h-0.9zM324.8 151.3h0.9v0.9h-0.9zM315.1 162.2h0.9v0.9h-0.9zM325.1 161.1h0.9v0.9h-0.9zM317.7 162.2h0.9v0.9h-0.9zM329.1 162.5h0.9v0.9h-0.9zM313.5 161.6h0.9v0.9h-0.9zM321.8 162.8h0.9v0.9h-0.9zM325.5 162.9h0.9v0.9h-0.9zM323.5 162.4h0.9v0.9h-0.9zM325.8 162.2h0.9v0.9h-0.9zM327.1 162.6h0.9v0.9h-0.9zM310.0 162.5h0.9v0.9h-0.9zM323.6 162.1h0.9v0.9h-0.9zM325.5 161.7h0.9v0.9h-0.9zM319.4 162.1h0.9v0.9h-0.9zM329.7 161.7h0.9v0.9h-0.9zM320.9 162.5h0.9v0.9h-0.9zM326.0 162.2h0.9v0.9h-0.9zM328.1 162.0h0.9v0.9h-0.9zM328.2 161.9h0.9v0.9h-0.9zM325.8 162.6h0.9v0.9h-0.9zM325.1 162.6h0.9v0.9h-0.9zM306.1 162.7h0.9v0.9h-0.9zM328.2 162.3h0.9v0.9h-0.9zM329.9 161.7h0.9v0.9h-0.9zM326.9 163.4h0.9v0.9h-0.9zM328.1 160.9h0.9v0.9h-0.9zM324.6 161.4h0.9v0.9h-0.9zM329.3 161.8h0.9v0.9h-0.9zM322.4 162.0h0.9v0.9h-0.9zM321.8 161.9h0.9v0.9h-0.9zM322.3 162.7h0.9v0.9h-0.9zM323.7 162.3h0.9v0.9h-0.9zM322.1 162.7h0.9v0.9h-0.9zM322.1 161.4h0.9v0.9h-0.9zM314.9 162.6h0.9v0.9h-0.9zM322.7 162.0h0.9v0.9h-0.9zM325.6 163.2h0.9v0.9h-0.9zM326.8 161.7h0.9v0.9h-0.9zM329.0 162.2h0.9v0.9h-0.9zM322.3 161.8h0.9v0.9h-0.9zM320.1 162.6h0.9v0.9h-0.9zM325.7 162.5h0.9v0.9h-0.9zM326.0 161.6h0.9v0.9h-0.9zM315.7 161.7h0.9v0.9h-0.9zM318.0 162.4h0.9v0.9h-0.9zM319.2 162.2h0.9v0.9h-0.9zM315.5 161.2h0.9v0.9h-0.9zM316.2 162.4h0.9v0.9h-0.9zM325.2 161.3h0.9v0.9h-0.9zM324.5 162.0h0.9v0.9h-0.9zM310.4 161.8h0.9v0.9h-0.9zM319.3 163.7h0.9v0.9h-0.9zM322.5 162.5h0.9v0.9h-0.9zM325.1 163.3h0.9v0.9h-0.9zM316.1 162.0h0.9v0.9h-0.9zM318.7 163.0h0.9v0.9h-0.9zM326.1 162.9h0.9v0.9h-0.9zM321.8 161.9h0.9v0.9h-0.9zM321.8 162.5h0.9v0.9h-0.9zM325.7 163.1h0.9v0.9h-0.9zM328.1 161.5h0.9v0.9h-0.9zM320.9 161.7h0.9v0.9h-0.9zM329.6 162.4h0.9v0.9h-0.9zM314.8 162.5h0.9v0.9h-0.9zM328.9 162.6h0.9v0.9h-0.9zM327.9 161.6h0.9v0.9h-0.9zM328.5 163.2h0.9v0.9h-0.9zM320.7 162.6h0.9v0.9h-0.9zM319.6 163.2h0.9v0.9h-0.9zM312.8 162.7h0.9v0.9h-0.9zM320.1 161.8h0.9v0.9h-0.9zM323.8 162.2h0.9v0.9h-0.9zM319.9 162.3h0.9v0.9h-0.9zM319.7 162.8h0.9v0.9h-0.9zM326.5 162.2h0.9v0.9h-0.9zM318.7 161.8h0.9v0.9h-0.9zM315.0 161.4h0.9v0.9h-0.9zM307.9 161.8h0.9v0.9h-0.9zM317.7 161.5h0.9v0.9h-0.9zM315.3 163.0h0.9v0.9h-0.9zM316.2 161.2h0.9v0.9h-0.9zM323.6 161.7h0.9v0.9h-0.9zM309.0 162.0h0.9v0.9h-0.9zM318.5 161.7h0.9v0.9h-0.9zM322.3 161.6h0.9v0.9h-0.9zM312.9 162.3h0.9v0.9h-0.9zM320.4 162.7h0.9v0.9h-0.9zM319.3 162.4h0.9v0.9h-0.9zM329.8 162.0h0.9v0.9h-0.9zM316.4 162.5h0.9v0.9h-0.9zM323.7 161.8h0.9v0.9h-0.9zM319.6 163.2h0.9v0.9h-0.9zM327.3 162.5h0.9v0.9h-0.9zM317.1 162.3h0.9v0.9h-0.9zM329.8 161.5h0.9v0.9h-0.9zM310.0 161.9h0.9v0.9h-0.9zM324.3 162.5h0.9v0.9h-0.9zM326.8 162.6h0.9v0.9h-0.9zM319.8 161.6h0.9v0.9h-0.9zM327.1 162.6h0.9v0.9h-0.9zM326.4 162.5h0.9v0.9h-0.9zM320.9 162.5h0.9v0.9h-0.9zM321.3 162.2h0.9v0.9h-0.9zM315.7 162.5h0.9v0.9h-0.9zM311.7 162.2h0.9v0.9h-0.9zM319.4 161.5h0.9v0.9h-0.9zM317.6 162.5h0.9v0.9h-0.9zM325.6 160.5h0.9v0.9h-0.9zM314.4 162.0h0.9v0.9h-0.9zM322.3 161.6h0.9v0.9h-0.9zM328.0 162.2h0.9v0.9h-0.9zM315.6 162.6h0.9v0.9h-0.9zM318.7 161.8h0.9v0.9h-0.9zM324.1 161.7h0.9v0.9h-0.9zM311.4 162.0h0.9v0.9h-0.9zM329.4 162.0h0.9v0.9h-0.9zM324.8 162.4h0.9v0.9h-0.9zM322.7 161.9h0.9v0.9h-0.9zM327.8 162.7h0.9v0.9h-0.9zM318.8 160.9h0.9v0.9h-0.9zM319.3 162.9h0.9v0.9h-0.9zM320.1 162.7h0.9v0.9h-0.9zM325.0 163.0h0.9v0.9h-0.9zM321.0 161.8h0.9v0.9h-0.9zM327.0 162.4h0.9v0.9h-0.9zM321.3 162.5h0.9v0.9h-0.9zM326.1 161.7h0.9v0.9h-0.9zM308.6 162.5h0.9v0.9h-0.9zM325.3 163.7h0.9v0.9h-0.9zM325.2 161.5h0.9v0.9h-0.9zM315.2 162.2h0.9v0.9h-0.9zM314.5 161.6h0.9v0.9h-0.9zM316.9 161.5h0.9v0.9h-0.9zM324.6 162.7h0.9v0.9h-0.9zM314.5 162.8h0.9v0.9h-0.9zM322.3 161.9h0.9v0.9h-0.9zM313.3 162.9h0.9v0.9h-0.9zM321.8 162.0h0.9v0.9h-0.9zM318.1 162.0h0.9v0.9h-0.9zM325.2 161.4h0.9v0.9h-0.9zM325.9 156.9h0.9v0.9h-0.9zM312.9 164.4h0.9v0.9h-0.9zM326.8 156.4h0.9v0.9h-0.9zM325.3 160.6h0.9v0.9h-0.9zM318.8 156.2h0.9v0.9h-0.9zM326.7 155.1h0.9v0.9h-0.9zM309.1 165.2h0.9v0.9h-0.9zM305.8 166.4h0.9v0.9h-0.9zM314.2 160.7h0.9v0.9h-0.9zM311.5 162.7h0.9v0.9h-0.9zM320.5 168.0h0.9v0.9h-0.9zM328.0 158.2h0.9v0.9h-0.9zM326.8 154.4h0.9v0.9h-0.9zM320.7 155.9h0.9v0.9h-0.9zM312.3 161.7h0.9v0.9h-0.9zM316.1 167.9h0.9v0.9h-0.9zM316.1 167.3h0.9v0.9h-0.9zM307.7 165.9h0.9v0.9h-0.9zM309.6 167.3h0.9v0.9h-0.9zM314.9 165.1h0.9v0.9h-0.9zM328.5 149.7h0.9v0.9h-0.9zM327.6 149.1h0.9v0.9h-0.9zM318.6 158.1h0.9v0.9h-0.9zM314.6 159.8h0.9v0.9h-0.9zM326.5 153.9h0.9v0.9h-0.9zM313.1 167.3h0.9v0.9h-0.9zM328.6 155.8h0.9v0.9h-0.9zM322.5 154.7h0.9v0.9h-0.9zM310.4 164.1h0.9v0.9h-0.9zM319.2 157.9h0.9v0.9h-0.9zM319.0 165.0h0.9v0.9h-0.9zM329.2 160.9h0.9v0.9h-0.9zM325.2 153.3h0.9v0.9h-0.9zM313.7 162.2h0.9v0.9h-0.9zM317.6 165.0h0.9v0.9h-0.9zM312.8 161.0h0.9v0.9h-0.9zM316.9 162.1h0.9v0.9h-0.9zM320.0 167.8h0.9v0.9h-0.9zM325.4 154.4h0.9v0.9h-0.9zM327.7 159.9h0.9v0.9h-0.9zM312.5 165.2h0.9v0.9h-0.9zM324.9 156.0h0.9v0.9h-0.9zM317.8 161.5h0.9v0.9h-0.9zM310.8 162.7h0.9v0.9h-0.9zM319.4 160.9h0.9v0.9h-0.9zM326.0 163.5h0.9v0.9h-0.9zM324.7 161.0h0.9v0.9h-0.9zM326.5 165.7h0.9v0.9h-0.9zM314.4 162.2h0.9v0.9h-0.9zM319.6 162.4h0.9v0.9h-0.9zM321.7 164.1h0.9v0.9h-0.9zM318.6 168.4h0.9v0.9h-0.9zM326.2 162.3h0.9v0.9h-0.9zM326.9 156.7h0.9v0.9h-0.9zM322.2 158.0h0.9v0.9h-0.9zM309.8 164.1h0.9v0.9h-0.9zM314.9 160.1h0.9v0.9h-0.9zM326.0 155.1h0.9v0.9h-0.9zM326.6 158.8h0.9v0.9h-0.9zM323.7 152.6h0.9v0.9h-0.9zM311.9 167.4h0.9v0.9h-0.9zM317.9 161.6h0.9v0.9h-0.9zM310.6 166.7h0.9v0.9h-0.9zM327.5 159.3h0.9v0.9h-0.9zM310.6 166.9h0.9v0.9h-0.9zM321.7 164.6h0.9v0.9h-0.9zM319.4 160.5h0.9v0.9h-0.9zM318.6 161.3h0.9v0.9h-0.9zM327.0 167.8h0.9v0.9h-0.9zM328.7 162.9h0.9v0.9h-0.9zM306.1 166.5h0.9v0.9h-0.9zM321.6 159.5h0.9v0.9h-0.9zM312.8 162.1h0.9v0.9h-0.9zM315.3 160.9h0.9v0.9h-0.9zM313.1 163.4h0.9v0.9h-0.9zM323.2 161.2h0.9v0.9h-0.9zM319.6 167.0h0.9v0.9h-0.9zM323.1 156.6h0.9v0.9h-0.9zM310.7 164.7h0.9v0.9h-0.9zM325.0 165.7h0.9v0.9h-0.9zM327.0 151.4h0.9v0.9h-0.9zM306.7 167.5h0.9v0.9h-0.9zM308.2 167.1h0.9v0.9h-0.9zM308.3 166.1h0.9v0.9h-0.9zM313.7 165.2h0.9v0.9h-0.9zM319.1 162.7h0.9v0.9h-0.9zM326.0 154.3h0.9v0.9h-0.9zM309.4 167.0h0.9v0.9h-0.9zM304.1 168.1h0.9v0.9h-0.9zM309.1 164.8h0.9v0.9h-0.9zM325.9 150.3h0.9v0.9h-0.9zM312.5 168.0h0.9v0.9h-0.9zM325.4 159.7h0.9v0.9h-0.9zM328.7 158.8h0.9v0.9h-0.9zM315.4 167.3h0.9v0.9h-0.9zM329.1 156.4h0.9v0.9h-0.9zM318.6 162.1h0.9v0.9h-0.9zM325.7 152.9h0.9v0.9h-0.9zM319.5 165.2h0.9v0.9h-0.9zM317.8 157.7h0.9v0.9h-0.9zM317.8 160.0h0.9v0.9h-0.9zM321.3 160.6h0.9v0.9h-0.9zM321.7 163.7h0.9v0.9h-0.9zM321.3 155.5h0.9v0.9h-0.9zM308.0 166.7h0.9v0.9h-0.9zM327.8 149.1h0.9v0.9h-0.9zM304.5 167.7h0.9v0.9h-0.9zM322.9 154.7h0.9v0.9h-0.9zM319.3 165.9h0.9v0.9h-0.9zM315.1 161.1h0.9v0.9h-0.9zM324.9 163.6h0.9v0.9h-0.9zM323.1 157.1h0.9v0.9h-0.9zM323.4 167.7h0.9v0.9h-0.9zM318.7 163.4h0.9v0.9h-0.9zM322.1 162.1h0.9v0.9h-0.9zM309.9 164.5h0.9v0.9h-0.9zM314.7 160.7h0.9v0.9h-0.9zM315.3 162.5h0.9v0.9h-0.9zM326.4 165.2h0.9v0.9h-0.9z" fill="#1a1a1a"/>
<text x="181.3" y="209.8" font-size="4.5" text-anchor="middle" font-weight="bold" font-style="normal" fill="#000" textLength="4.0" lengthAdjust="spacingAndGlyphs"  stroke="#000" stroke-width="0.048">10</text>
<text x="184.7" y="206.9" font-size="3.4" text-anchor="middle" font-weight="bold" font-style="normal" fill="#111"  stroke="#111" stroke-width="0.048">0</text>
<text x="197.6" y="209.8" font-size="4.5" text-anchor="middle" font-weight="bold" font-style="normal" fill="#000" textLength="4.0" lengthAdjust="spacingAndGlyphs"  stroke="#000" stroke-width="0.048">10</text>
<text x="201.0" y="206.9" font-size="3.4" text-anchor="middle" font-weight="bold" font-style="normal" fill="#111"  stroke="#111" stroke-width="0.048">1</text>
<text x="213.9" y="209.8" font-size="4.5" text-anchor="middle" font-weight="bold" font-style="normal" fill="#000" textLength="4.0" lengthAdjust="spacingAndGlyphs"  stroke="#000" stroke-width="0.048">10</text>
<text x="217.3" y="206.9" font-size="3.4" text-anchor="middle" font-weight="bold" font-style="normal" fill="#111"  stroke="#111" stroke-width="0.048">2</text>
<text x="230.2" y="209.8" font-size="4.5" text-anchor="middle" font-weight="bold" font-style="normal" fill="#000" textLength="4.0" lengthAdjust="spacingAndGlyphs"  stroke="#000" stroke-width="0.048">10</text>
<text x="233.6" y="206.9" font-size="3.4" text-anchor="middle" font-weight="bold" font-style="normal" fill="#111"  stroke="#111" stroke-width="0.048">3</text>
<text x="246.5" y="209.8" font-size="4.5" text-anchor="middle" font-weight="bold" font-style="normal" fill="#000" textLength="4.0" lengthAdjust="spacingAndGlyphs"  stroke="#000" stroke-width="0.048">10</text>
<text x="177.5" y="203.0" font-size="4.5" text-anchor="middle" font-weight="bold" font-style="normal" fill="#000" textLength="4.0" lengthAdjust="spacingAndGlyphs" transform="rotate(-90 177.5 203.0)"  stroke="#000" stroke-width="0.048">10</text>
<text x="174.5" y="199.0" font-size="3.4" text-anchor="middle" font-weight="bold" font-style="normal" fill="#111" transform="rotate(-90 174.5 199.0)"  stroke="#111" stroke-width="0.048">0</text>
<text x="177.5" y="186.75" font-size="4.5" text-anchor="middle" font-weight="bold" font-style="normal" fill="#000" textLength="4.0" lengthAdjust="spacingAndGlyphs" transform="rotate(-90 177.5 186.75)"  stroke="#000" stroke-width="0.048">10</text>
<text x="174.5" y="182.75" font-size="3.4" text-anchor="middle" font-weight="bold" font-style="normal" fill="#111" transform="rotate(-90 174.5 182.75)"  stroke="#111" stroke-width="0.048">1</text>
<text x="177.5" y="170.5" font-size="4.5" text-anchor="middle" font-weight="bold" font-style="normal" fill="#000" textLength="4.0" lengthAdjust="spacingAndGlyphs" transform="rotate(-90 177.5 170.5)"  stroke="#000" stroke-width="0.048">10</text>
<text x="174.5" y="166.5" font-size="3.4" text-anchor="middle" font-weight="bold" font-style="normal" fill="#111" transform="rotate(-90 174.5 166.5)"  stroke="#111" stroke-width="0.048">2</text>
<text x="177.5" y="154.25" font-size="4.5" text-anchor="middle" font-weight="bold" font-style="normal" fill="#000" textLength="4.0" lengthAdjust="spacingAndGlyphs" transform="rotate(-90 177.5 154.25)"  stroke="#000" stroke-width="0.048">10</text>
<text x="174.5" y="150.25" font-size="3.4" text-anchor="middle" font-weight="bold" font-style="normal" fill="#111" transform="rotate(-90 174.5 150.25)"  stroke="#111" stroke-width="0.048">3</text>
<text x="177.5" y="138.0" font-size="4.5" text-anchor="middle" font-weight="bold" font-style="normal" fill="#000" textLength="4.0" lengthAdjust="spacingAndGlyphs" transform="rotate(-90 177.5 138.0)"  stroke="#000" stroke-width="0.048">10</text>
<text x="174.5" y="134.0" font-size="3.4" text-anchor="middle" font-weight="bold" font-style="normal" fill="#111" transform="rotate(-90 174.5 134.0)"  stroke="#111" stroke-width="0.048">4</text>
<text x="212.2" y="214.7" font-size="4.0" text-anchor="middle" font-weight="bold" font-style="normal" fill="#000" textLength="15.2" lengthAdjust="spacingAndGlyphs"  stroke="#000" stroke-width="0.048">Ann V APC</text>
<text x="171.8" y="170.7" font-size="4.3" text-anchor="middle" font-weight="normal" font-style="normal" fill="#000" textLength="10.8" lengthAdjust="spacingAndGlyphs" transform="rotate(-90 171.8 170.7)" stroke="#000" stroke-width="0.2">7AAD</text>
<text x="263.3" y="210.7" font-size="4.5" text-anchor="middle" font-weight="bold" font-style="normal" fill="#000" textLength="4.0" lengthAdjust="spacingAndGlyphs"  stroke="#000" stroke-width="0.048">10</text>
<text x="266.7" y="207.8" font-size="3.4" text-anchor="middle" font-weight="bold" font-style="normal" fill="#111"  stroke="#111" stroke-width="0.048">0</text>
<text x="279.6" y="210.7" font-size="4.5" text-anchor="middle" font-weight="bold" font-style="normal" fill="#000" textLength="4.0" lengthAdjust="spacingAndGlyphs"  stroke="#000" stroke-width="0.048">10</text>
<text x="283.0" y="207.8" font-size="3.4" text-anchor="middle" font-weight="bold" font-style="normal" fill="#111"  stroke="#111" stroke-width="0.048">1</text>
<text x="295.9" y="210.7" font-size="4.5" text-anchor="middle" font-weight="bold" font-style="normal" fill="#000" textLength="4.0" lengthAdjust="spacingAndGlyphs"  stroke="#000" stroke-width="0.048">10</text>
<text x="299.3" y="207.8" font-size="3.4" text-anchor="middle" font-weight="bold" font-style="normal" fill="#111"  stroke="#111" stroke-width="0.048">2</text>
<text x="312.2" y="210.7" font-size="4.5" text-anchor="middle" font-weight="bold" font-style="normal" fill="#000" textLength="4.0" lengthAdjust="spacingAndGlyphs"  stroke="#000" stroke-width="0.048">10</text>
<text x="315.6" y="207.8" font-size="3.4" text-anchor="middle" font-weight="bold" font-style="normal" fill="#111"  stroke="#111" stroke-width="0.048">3</text>
<text x="328.5" y="210.7" font-size="4.5" text-anchor="middle" font-weight="bold" font-style="normal" fill="#000" textLength="4.0" lengthAdjust="spacingAndGlyphs"  stroke="#000" stroke-width="0.048">10</text>
<text x="331.9" y="207.8" font-size="3.4" text-anchor="middle" font-weight="bold" font-style="normal" fill="#111"  stroke="#111" stroke-width="0.048">4</text>
<text x="259.5" y="203.9" font-size="4.5" text-anchor="middle" font-weight="bold" font-style="normal" fill="#000" textLength="4.0" lengthAdjust="spacingAndGlyphs" transform="rotate(-90 259.5 203.9)"  stroke="#000" stroke-width="0.048">10</text>
<text x="256.5" y="199.9" font-size="3.4" text-anchor="middle" font-weight="bold" font-style="normal" fill="#111" transform="rotate(-90 256.5 199.9)"  stroke="#111" stroke-width="0.048">0</text>
<text x="259.5" y="187.65" font-size="4.5" text-anchor="middle" font-weight="bold" font-style="normal" fill="#000" textLength="4.0" lengthAdjust="spacingAndGlyphs" transform="rotate(-90 259.5 187.65)"  stroke="#000" stroke-width="0.048">10</text>
<text x="256.5" y="183.65" font-size="3.4" text-anchor="middle" font-weight="bold" font-style="normal" fill="#111" transform="rotate(-90 256.5 183.65)"  stroke="#111" stroke-width="0.048">1</text>
<text x="259.5" y="171.4" font-size="4.5" text-anchor="middle" font-weight="bold" font-style="normal" fill="#000" textLength="4.0" lengthAdjust="spacingAndGlyphs" transform="rotate(-90 259.5 171.4)"  stroke="#000" stroke-width="0.048">10</text>
<text x="256.5" y="167.4" font-size="3.4" text-anchor="middle" font-weight="bold" font-style="normal" fill="#111" transform="rotate(-90 256.5 167.4)"  stroke="#111" stroke-width="0.048">2</text>
<text x="259.5" y="155.15" font-size="4.5" text-anchor="middle" font-weight="bold" font-style="normal" fill="#000" textLength="4.0" lengthAdjust="spacingAndGlyphs" transform="rotate(-90 259.5 155.15)"  stroke="#000" stroke-width="0.048">10</text>
<text x="256.5" y="151.15" font-size="3.4" text-anchor="middle" font-weight="bold" font-style="normal" fill="#111" transform="rotate(-90 256.5 151.15)"  stroke="#111" stroke-width="0.048">3</text>
<text x="259.5" y="138.9" font-size="4.5" text-anchor="middle" font-weight="bold" font-style="normal" fill="#000" textLength="4.0" lengthAdjust="spacingAndGlyphs" transform="rotate(-90 259.5 138.9)"  stroke="#000" stroke-width="0.048">10</text>
<text x="256.5" y="134.9" font-size="3.4" text-anchor="middle" font-weight="bold" font-style="normal" fill="#111" transform="rotate(-90 256.5 134.9)"  stroke="#111" stroke-width="0.048">4</text>
<text x="294.2" y="215.6" font-size="4.0" text-anchor="middle" font-weight="bold" font-style="normal" fill="#000" textLength="15.2" lengthAdjust="spacingAndGlyphs"  stroke="#000" stroke-width="0.048">Ann V APC</text>
<text x="253.8" y="171.4" font-size="4.3" text-anchor="middle" font-weight="normal" font-style="normal" fill="#000" textLength="10.8" lengthAdjust="spacingAndGlyphs" transform="rotate(-90 253.8 171.4)" stroke="#000" stroke-width="0.2">7AAD</text>
<line x1="180.8" y1="230.7" x2="243.8" y2="230.7" stroke="#222" stroke-width="1.2" />
<line x1="220.8" y1="221.89999999999998" x2="220.8" y2="245.2" stroke="#222" stroke-width="1.2" />
<text x="215.10000000000002" y="228.39999999999998" font-size="8.2" text-anchor="end" font-weight="normal" font-style="normal" fill="#222"  stroke="#222" stroke-width="0.22">0.6%</text>
<text x="225.20000000000002" y="228.39999999999998" font-size="8.2" text-anchor="start" font-weight="normal" font-style="normal" fill="#222"  stroke="#222" stroke-width="0.22">19%</text>
<text x="213.20000000000002" y="243.6" font-size="8.2" text-anchor="end" font-weight="normal" font-style="normal" fill="#222"  stroke="#222" stroke-width="0.22">65%</text>
<text x="224.9" y="243.6" font-size="8.2" text-anchor="start" font-weight="normal" font-style="normal" fill="#222"  stroke="#222" stroke-width="0.22">15%</text>
<line x1="261.2" y1="231.2" x2="323.8" y2="231.2" stroke="#222" stroke-width="1.2" />
<line x1="300.8" y1="222.39999999999998" x2="300.8" y2="245.7" stroke="#222" stroke-width="1.2" />
<text x="295.1" y="228.89999999999998" font-size="8.2" text-anchor="end" font-weight="normal" font-style="normal" fill="#222"  stroke="#222" stroke-width="0.22">0.6%</text>
<text x="305.2" y="228.89999999999998" font-size="8.2" text-anchor="start" font-weight="normal" font-style="normal" fill="#222"  stroke="#222" stroke-width="0.22">40%</text>
<text x="293.2" y="244.1" font-size="8.2" text-anchor="end" font-weight="normal" font-style="normal" fill="#222"  stroke="#222" stroke-width="0.22">41%</text>
<text x="304.90000000000003" y="244.1" font-size="8.2" text-anchor="start" font-weight="normal" font-style="normal" fill="#222"  stroke="#222" stroke-width="0.22">18%</text>
<text x="347.0" y="129.3" font-size="11.6" text-anchor="start" font-weight="bold" font-style="normal" fill="#111"  stroke="#111" stroke-width="0.08">E</text>
<line x1="381.5" y1="140.8" x2="381.5" y2="232.7" stroke="#111" stroke-width="1.0" />
<line x1="379.6" y1="140.8" x2="381.5" y2="140.8" stroke="#111" stroke-width="1.0" />
<text x="372.0" y="142.70000000000002" font-size="5.7" text-anchor="end" font-weight="bold" font-style="normal" fill="#222"  stroke="#222" stroke-width="0.08">25000</text>
<line x1="379.6" y1="159.13" x2="381.5" y2="159.13" stroke="#111" stroke-width="1.0" />
<text x="372.0" y="161.03" font-size="5.7" text-anchor="end" font-weight="bold" font-style="normal" fill="#222"  stroke="#222" stroke-width="0.08">20000</text>
<line x1="379.6" y1="177.46" x2="381.5" y2="177.46" stroke="#111" stroke-width="1.0" />
<text x="372.0" y="179.36" font-size="5.7" text-anchor="end" font-weight="bold" font-style="normal" fill="#222"  stroke="#222" stroke-width="0.08">15000</text>
<line x1="379.6" y1="195.79000000000002" x2="381.5" y2="195.79000000000002" stroke="#111" stroke-width="1.0" />
<text x="372.0" y="197.69000000000003" font-size="5.7" text-anchor="end" font-weight="bold" font-style="normal" fill="#222"  stroke="#222" stroke-width="0.08">10000</text>
<line x1="379.6" y1="214.12" x2="381.5" y2="214.12" stroke="#111" stroke-width="1.0" />
<text x="372.0" y="216.02" font-size="5.7" text-anchor="end" font-weight="bold" font-style="normal" fill="#222"  stroke="#222" stroke-width="0.08">5000</text>
<line x1="379.6" y1="232.45" x2="381.5" y2="232.45" stroke="#111" stroke-width="1.0" />
<text x="374.0" y="234.95" font-size="5.7" text-anchor="end" font-weight="bold" font-style="normal" fill="#222"  stroke="#222" stroke-width="0.08">0</text>
<line x1="379.2" y1="232.6" x2="520" y2="232.6" stroke="#111" stroke-width="1.0" />
<line x1="399.2" y1="232.6" x2="399.2" y2="234.3" stroke="#111" stroke-width="1.0" />
<line x1="433.8" y1="232.6" x2="433.8" y2="234.3" stroke="#111" stroke-width="1.0" />
<line x1="468.0" y1="232.6" x2="468.0" y2="234.3" stroke="#111" stroke-width="1.0" />
<line x1="502.3" y1="232.6" x2="502.3" y2="234.3" stroke="#111" stroke-width="1.0" />
<text x="351.5" y="182.9" font-size="6.2" text-anchor="middle" font-weight="bold" font-style="normal" fill="#222" textLength="69.5" lengthAdjust="spacingAndGlyphs" transform="rotate(-90 351.5 182.9)"  stroke="#222" stroke-width="0.08">absolute numbers of DC</text>
<line x1="398.9" y1="157.3" x2="398.9" y2="169.5" stroke="#111" stroke-width="1.1" />
<line x1="393.09999999999997" y1="157.3" x2="404.7" y2="157.3" stroke="#111" stroke-width="1.1" />
<rect x="388.0" y="170.0" width="22.100000000000023" height="62.599999999999994" fill="#fff" stroke="#111" stroke-width="1.1"/>
<line x1="433.8" y1="221.1" x2="433.8" y2="225.3" stroke="#111" stroke-width="1.1" />
<line x1="428.45" y1="221.1" x2="439.15000000000003" y2="221.1" stroke="#111" stroke-width="1.1" />
<rect x="421.7" y="225.3" width="23.69999999999999" height="7.299999999999983" fill="#111" stroke="none" stroke-width="1.0"/>
<line x1="468.2" y1="189.8" x2="468.2" y2="194.9" stroke="#111" stroke-width="1.1" />
<line x1="462.65" y1="189.8" x2="473.75" y2="189.8" stroke="#111" stroke-width="1.1" />
<rect x="456.9" y="195.4" width="22.200000000000045" height="37.19999999999999" fill="#fff" stroke="#111" stroke-width="1.1"/>
<line x1="502.7" y1="228.0" x2="502.7" y2="229.2" stroke="#111" stroke-width="1.1" />
<line x1="498.7" y1="228.0" x2="506.7" y2="228.0" stroke="#111" stroke-width="1.1" />
<rect x="490.8" y="229.2" width="23.80000000000001" height="3.4000000000000057" fill="#111" stroke="none" stroke-width="1.0"/>
<line x1="450.3" y1="135.3" x2="450.3" y2="232.6" stroke="#111" stroke-width="1.0" stroke-dasharray="2.5 1.8"/>
<polyline points="398.9,152.5 398.9,141.4 407.5,141.4" fill="none" stroke="#444" stroke-width="1.0"/>
<polyline points="421.4,141.4 433.5,141.4 433.5,189.4" fill="none" stroke="#444" stroke-width="1.0"/>
<polyline points="468.5,152.6 468.5,142 477,142" fill="none" stroke="#444" stroke-width="1.0"/>
<polyline points="490.9,142 502.9,142 502.9,190" fill="none" stroke="#444" stroke-width="1.0"/>
<path d="M414.50 139.10L414.50 144.50M416.84 140.45L412.16 143.15M416.84 143.15L412.16 140.45" stroke="#666" stroke-width="0.9" stroke-linecap="round"/>
<path d="M483.70 140.50L483.70 144.50M485.43 141.50L481.97 143.50M485.43 143.50L481.97 141.50" stroke="#777" stroke-width="0.9" stroke-linecap="round"/>
<text x="401.3" y="135.7" font-size="5.9" text-anchor="start" font-weight="bold" font-style="normal" fill="#111" textLength="24.6" lengthAdjust="spacingAndGlyphs"  stroke="#111" stroke-width="0.08">18 hours</text>
<text x="471.4" y="136.5" font-size="6.4" text-anchor="start" font-weight="normal" font-style="normal" fill="#111" textLength="24.4" lengthAdjust="spacingAndGlyphs" stroke="#111" stroke-width="0.25">48 hours</text>
<text x="395.4" y="241.7" font-size="6.5" text-anchor="middle" font-weight="bold" font-style="normal" fill="#111" textLength="26.2" lengthAdjust="spacingAndGlyphs"  stroke="#111" stroke-width="0.08">CTRL-DC</text>
<text x="430.4" y="241.7" font-size="6.5" text-anchor="middle" font-weight="bold" font-style="normal" fill="#111" textLength="21.5" lengthAdjust="spacingAndGlyphs"  stroke="#111" stroke-width="0.08">IVIg-DC</text>
<text x="464.2" y="241.7" font-size="6.5" text-anchor="middle" font-weight="bold" font-style="normal" fill="#111" textLength="26.1" lengthAdjust="spacingAndGlyphs"  stroke="#111" stroke-width="0.08">CTRL-DC</text>
<text x="499.3" y="241.7" font-size="6.5" text-anchor="middle" font-weight="bold" font-style="normal" fill="#111" textLength="21.5" lengthAdjust="spacingAndGlyphs"  stroke="#111" stroke-width="0.08">IVIg-DC</text>
</svg>
</body></html>
